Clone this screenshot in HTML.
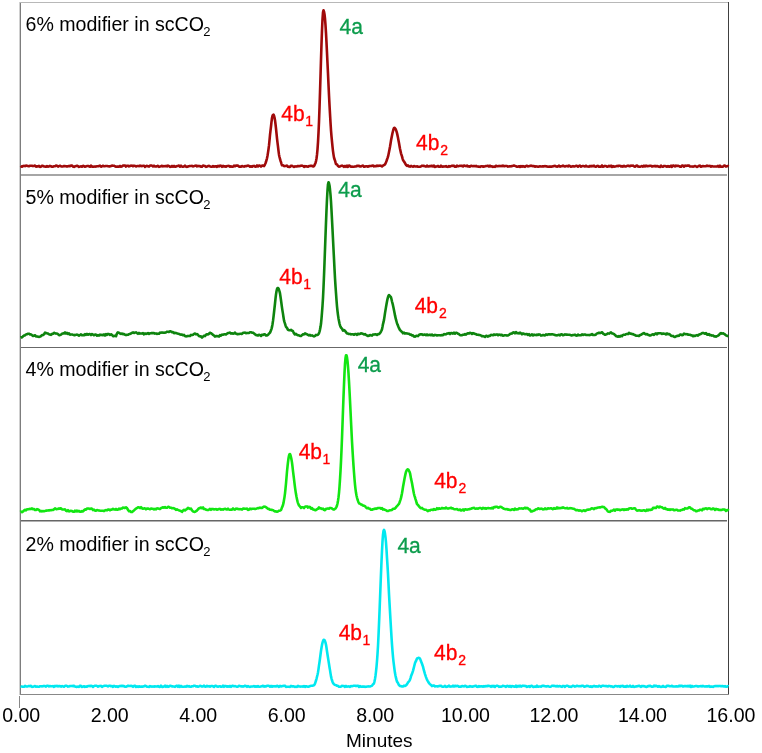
<!DOCTYPE html>
<html><head><meta charset="utf-8"><style>
html,body{margin:0;padding:0;background:#fff;width:762px;height:753px;overflow:hidden}
svg{display:block;font-family:"Liberation Sans",sans-serif;will-change:transform}
</style></head><body>
<svg width="762" height="753" viewBox="0 0 762 753">
<rect width="762" height="753" fill="#fff"/>
<rect x="20" y="2" width="1" height="693" fill="#7d7d7d"/>
<rect x="19" y="2" width="1" height="693" fill="#d0d0d0"/>
<rect x="20" y="2" width="708" height="1" fill="#b8b8b8"/>
<rect x="728" y="2" width="1" height="693" fill="#404040"/>
<rect x="21" y="174" width="706" height="2" fill="#a6a6a6"/>
<rect x="21" y="347" width="706" height="1" fill="#686868"/>
<rect x="21" y="520" width="706" height="1" fill="#666"/>
<rect x="21" y="521" width="706" height="1" fill="#b0b0b0"/>
<rect x="20" y="694" width="709" height="1" fill="#888"/>
<rect x="19" y="696" width="1" height="12" fill="#888"/>
<path d="M20.5,165.9 21.0,166.3 21.5,166.5 22.0,166.8 22.5,166.4 23.0,166.0 23.5,165.9 24.0,165.8 24.5,165.9 25.0,166.1 25.5,165.8 26.0,165.5 26.5,165.7 27.0,165.8 27.5,166.0 28.0,166.1 28.5,166.2 29.0,166.2 29.5,166.0 30.0,165.8 30.5,165.8 31.0,165.8 31.5,165.8 32.0,165.8 32.5,166.0 33.0,166.1 33.5,166.0 34.0,165.9 34.5,165.7 35.0,165.5 35.5,166.1 36.0,166.7 36.5,166.5 37.0,166.3 37.5,166.3 38.0,166.4 38.5,166.1 39.0,165.8 39.5,166.3 40.0,166.9 40.5,166.8 41.0,166.7 41.5,166.2 42.0,165.7 42.5,165.8 43.0,166.0 43.5,166.2 44.0,166.5 44.5,166.5 45.0,166.5 45.5,166.7 46.0,166.8 46.5,166.5 47.0,166.1 47.5,166.4 48.0,166.7 48.5,166.6 49.0,166.4 49.5,166.2 50.0,165.9 50.5,166.1 51.0,166.3 51.5,166.5 52.0,166.7 52.5,166.7 53.0,166.7 53.5,166.4 54.0,166.2 54.5,166.3 55.0,166.3 55.5,165.9 56.0,165.5 56.5,165.7 57.0,165.8 57.5,166.2 58.0,166.6 58.5,166.3 59.0,166.1 59.5,165.9 60.0,165.7 60.5,166.0 61.0,166.3 61.5,166.4 62.0,166.5 62.5,166.5 63.0,166.4 63.5,166.2 64.0,166.0 64.5,166.1 65.0,166.1 65.5,166.2 66.0,166.2 66.5,166.4 67.0,166.6 67.5,166.4 68.0,166.2 68.5,166.1 69.0,166.1 69.5,166.1 70.0,166.2 70.5,165.9 71.0,165.5 71.5,165.6 72.0,165.6 72.5,166.0 73.0,166.5 73.5,166.7 74.0,166.9 74.5,166.6 75.0,166.3 75.5,166.2 76.0,166.1 76.5,165.9 77.0,165.7 77.5,166.0 78.0,166.2 78.5,166.5 79.0,166.9 79.5,166.7 80.0,166.6 80.5,166.4 81.0,166.3 81.5,166.5 82.0,166.7 82.5,166.3 83.0,165.8 83.5,166.0 84.0,166.2 84.5,166.5 85.0,166.8 85.5,166.6 86.0,166.3 86.5,166.2 87.0,166.1 87.5,166.0 88.0,165.9 88.5,166.1 89.0,166.3 89.5,166.6 90.0,166.8 90.5,166.2 91.0,165.5 91.5,166.1 92.0,166.6 92.5,166.6 93.0,166.6 93.5,166.7 94.0,166.7 94.5,166.6 95.0,166.5 95.5,166.6 96.0,166.6 96.5,166.4 97.0,166.2 97.5,166.3 98.0,166.3 98.5,166.2 99.0,166.1 99.5,165.8 100.0,165.6 100.5,166.1 101.0,166.7 101.5,166.5 102.0,166.3 102.5,166.0 103.0,165.8 103.5,166.0 104.0,166.2 104.5,166.2 105.0,166.2 105.5,166.1 106.0,166.0 106.5,166.0 107.0,166.0 107.5,166.1 108.0,166.3 108.5,166.3 109.0,166.4 109.5,166.4 110.0,166.4 110.5,166.2 111.0,166.1 111.5,165.8 112.0,165.5 112.5,165.7 113.0,165.8 113.5,165.8 114.0,165.7 114.5,166.0 115.0,166.3 115.5,166.5 116.0,166.7 116.5,166.7 117.0,166.6 117.5,166.6 118.0,166.6 118.5,166.6 119.0,166.6 119.5,166.3 120.0,165.9 120.5,166.3 121.0,166.7 121.5,166.6 122.0,166.4 122.5,166.0 123.0,165.6 123.5,165.6 124.0,165.5 124.5,165.5 125.0,165.5 125.5,166.0 126.0,166.6 126.5,166.2 127.0,165.8 127.5,165.8 128.0,165.7 128.5,166.0 129.0,166.4 129.5,166.2 130.0,166.0 130.5,165.8 131.0,165.6 131.5,165.7 132.0,165.7 132.5,166.0 133.0,166.2 133.5,166.0 134.0,165.7 134.5,165.8 135.0,165.9 135.5,166.2 136.0,166.5 136.5,166.3 137.0,166.1 137.5,166.0 138.0,166.0 138.5,166.1 139.0,166.2 139.5,165.8 140.0,165.5 140.5,165.8 141.0,166.0 141.5,166.1 142.0,166.1 142.5,165.9 143.0,165.8 143.5,165.7 144.0,165.7 144.5,166.2 145.0,166.8 145.5,166.5 146.0,166.2 146.5,166.0 147.0,165.8 147.5,166.1 148.0,166.3 148.5,166.5 149.0,166.6 149.5,166.1 150.0,165.5 150.5,165.5 151.0,165.5 151.5,165.6 152.0,165.7 152.5,166.1 153.0,166.5 153.5,166.1 154.0,165.7 154.5,166.1 155.0,166.5 155.5,166.5 156.0,166.4 156.5,166.4 157.0,166.3 157.5,166.0 158.0,165.8 158.5,166.3 159.0,166.9 159.5,166.7 160.0,166.6 160.5,166.4 161.0,166.2 161.5,166.0 162.0,165.8 162.5,166.1 163.0,166.4 163.5,166.2 164.0,166.1 164.5,166.2 165.0,166.3 165.5,166.1 166.0,165.9 166.5,166.2 167.0,166.4 167.5,166.0 168.0,165.6 168.5,165.8 169.0,165.9 169.5,166.4 170.0,166.9 170.5,166.8 171.0,166.7 171.5,166.3 172.0,165.9 172.5,166.3 173.0,166.7 173.5,166.3 174.0,165.9 174.5,166.4 175.0,166.8 175.5,166.7 176.0,166.5 176.5,166.3 177.0,166.1 177.5,166.0 178.0,165.9 178.5,165.7 179.0,165.5 179.5,166.1 180.0,166.7 180.5,166.1 181.0,165.6 181.5,166.1 182.0,166.6 182.5,166.7 183.0,166.8 183.5,166.6 184.0,166.3 184.5,166.0 185.0,165.7 185.5,166.2 186.0,166.7 186.5,166.8 187.0,166.9 187.5,166.7 188.0,166.5 188.5,166.3 189.0,166.2 189.5,166.1 190.0,166.0 190.5,166.0 191.0,166.0 191.5,165.9 192.0,165.8 192.5,166.1 193.0,166.4 193.5,166.3 194.0,166.1 194.5,165.9 195.0,165.8 195.5,165.7 196.0,165.6 196.5,166.0 197.0,166.4 197.5,166.2 198.0,165.9 198.5,166.1 199.0,166.2 199.5,166.1 200.0,166.0 200.5,166.3 201.0,166.7 201.5,166.7 202.0,166.8 202.5,166.1 203.0,165.5 203.5,165.7 204.0,165.8 204.5,165.9 205.0,166.0 205.5,166.4 206.0,166.9 206.5,166.7 207.0,166.6 207.5,166.3 208.0,166.0 208.5,165.9 209.0,165.8 209.5,166.1 210.0,166.4 210.5,166.6 211.0,166.7 211.5,166.7 212.0,166.8 212.5,166.4 213.0,166.0 213.5,166.4 214.0,166.7 214.5,166.6 215.0,166.5 215.5,166.3 216.0,166.2 216.5,166.5 217.0,166.9 217.5,166.4 218.0,165.8 218.5,166.2 219.0,166.5 219.5,166.1 220.0,165.6 220.5,165.7 221.0,165.7 221.5,166.3 222.0,166.8 222.5,166.3 223.0,165.8 223.5,166.2 224.0,166.6 224.5,166.5 225.0,166.3 225.5,166.5 226.0,166.7 226.5,166.3 227.0,166.0 227.5,166.0 228.0,166.0 228.5,165.9 229.0,165.9 229.5,166.3 230.0,166.7 230.5,166.5 231.0,166.3 231.5,166.6 232.0,166.8 232.5,166.8 233.0,166.7 233.5,166.2 234.0,165.7 234.5,166.0 235.0,166.3 235.5,166.0 236.0,165.6 236.5,165.6 237.0,165.6 237.5,165.6 238.0,165.6 238.5,166.2 239.0,166.7 239.5,166.7 240.0,166.6 240.5,166.6 241.0,166.7 241.5,166.3 242.0,166.0 242.5,166.2 243.0,166.4 243.5,166.5 244.0,166.6 244.5,166.3 245.0,166.0 245.5,166.2 246.0,166.3 246.5,166.1 247.0,165.8 247.5,165.7 248.0,165.6 248.5,165.7 249.0,165.9 249.5,166.3 250.0,166.7 250.5,166.5 251.0,166.3 251.5,166.5 252.0,166.8 252.5,166.5 253.0,166.1 253.5,166.0 254.0,165.9 254.5,166.2 255.0,166.6 255.5,166.6 256.0,166.7 256.5,166.1 257.0,165.5 257.5,166.0 258.0,166.4 258.5,166.0 259.0,165.6 259.5,165.6 260.0,165.7 260.5,166.2 261.0,166.7 261.5,166.1 262.0,165.5 262.5,165.5 263.0,165.5 263.5,165.9 264.0,166.1 264.5,165.3 265.0,164.3 265.5,163.2 266.0,161.8 266.5,160.2 267.0,158.2 267.5,155.7 268.0,152.6 268.5,149.2 269.0,145.4 269.5,140.3 270.0,135.0 270.5,130.6 271.0,126.5 271.5,121.8 272.0,118.0 272.5,115.9 273.0,114.9 273.5,114.7 274.0,115.7 274.5,117.5 275.0,120.2 275.5,124.1 276.0,128.5 276.5,133.4 277.0,138.3 277.5,142.7 278.0,146.7 278.5,150.9 279.0,154.7 279.5,157.0 280.0,158.9 280.5,160.7 281.0,162.1 281.5,163.8 282.0,165.3 282.5,165.3 283.0,165.2 283.5,165.7 284.0,166.1 284.5,166.1 285.0,166.0 285.5,166.0 286.0,165.9 286.5,165.7 287.0,165.6 287.5,166.2 288.0,166.8 288.5,166.8 289.0,166.9 289.5,166.9 290.0,166.9 290.5,166.3 291.0,165.7 291.5,165.7 292.0,165.8 292.5,166.1 293.0,166.4 293.5,166.6 294.0,166.9 294.5,166.6 295.0,166.3 295.5,166.4 296.0,166.5 296.5,166.4 297.0,166.4 297.5,166.1 298.0,165.9 298.5,166.1 299.0,166.3 299.5,166.1 300.0,165.9 300.5,165.9 301.0,165.8 301.5,165.7 302.0,165.6 302.5,165.8 303.0,165.9 303.5,166.4 304.0,166.9 304.5,166.5 305.0,166.1 305.5,166.3 306.0,166.4 306.5,166.4 307.0,166.4 307.5,166.6 308.0,166.8 308.5,166.4 309.0,166.0 309.5,166.0 310.0,165.9 310.5,165.9 311.0,165.9 311.5,165.9 312.0,165.9 312.5,166.2 313.0,166.5 313.5,166.4 314.0,166.1 314.5,165.3 315.0,164.1 315.5,162.9 316.0,161.1 316.5,158.5 317.0,154.7 317.5,149.3 318.0,142.1 318.5,132.9 319.0,121.6 319.5,107.9 320.0,92.6 320.5,76.2 321.0,59.6 321.5,44.0 322.0,30.3 322.5,19.3 323.0,12.3 323.5,10.2 324.0,11.6 324.5,14.2 325.0,18.7 325.5,25.2 326.0,33.1 326.5,42.6 327.0,52.9 327.5,63.2 328.0,73.6 328.5,84.6 329.0,95.3 329.5,105.0 330.0,113.9 330.5,122.5 331.0,130.3 331.5,136.4 332.0,141.6 332.5,146.7 333.0,151.1 333.5,154.6 334.0,157.6 334.5,159.3 335.0,160.5 335.5,162.4 336.0,164.1 336.5,164.3 337.0,164.3 337.5,165.2 338.0,165.9 338.5,166.3 339.0,166.6 339.5,166.6 340.0,166.5 340.5,166.2 341.0,165.9 341.5,165.8 342.0,165.6 342.5,165.9 343.0,166.2 343.5,166.5 344.0,166.8 344.5,166.3 345.0,165.9 345.5,166.3 346.0,166.8 346.5,166.2 347.0,165.7 347.5,166.2 348.0,166.8 348.5,166.2 349.0,165.5 349.5,165.7 350.0,165.9 350.5,166.4 351.0,166.8 351.5,166.7 352.0,166.6 352.5,166.7 353.0,166.8 353.5,166.7 354.0,166.7 354.5,166.6 355.0,166.5 355.5,166.5 356.0,166.5 356.5,166.1 357.0,165.7 357.5,165.9 358.0,166.1 358.5,165.9 359.0,165.7 359.5,166.1 360.0,166.5 360.5,166.5 361.0,166.4 361.5,166.1 362.0,165.9 362.5,165.7 363.0,165.6 363.5,166.2 364.0,166.8 364.5,166.7 365.0,166.6 365.5,166.5 366.0,166.3 366.5,166.3 367.0,166.3 367.5,166.5 368.0,166.7 368.5,166.4 369.0,166.1 369.5,166.1 370.0,166.1 370.5,166.0 371.0,166.0 371.5,165.9 372.0,165.9 372.5,165.7 373.0,165.5 373.5,166.0 374.0,166.4 374.5,166.2 375.0,166.1 375.5,166.2 376.0,166.3 376.5,165.9 377.0,165.6 377.5,165.8 378.0,166.0 378.5,165.8 379.0,165.7 379.5,165.7 380.0,165.6 380.5,165.7 381.0,165.8 381.5,166.1 382.0,166.4 382.5,166.0 383.0,165.6 383.5,165.3 384.0,165.0 384.5,164.8 385.0,164.4 385.5,163.4 386.0,162.3 386.5,161.0 387.0,159.5 387.5,158.2 388.0,156.7 388.5,154.5 389.0,152.1 389.5,149.5 390.0,146.8 390.5,143.7 391.0,140.6 391.5,137.9 392.0,135.4 392.5,133.0 393.0,131.0 393.5,129.2 394.0,127.9 394.5,127.8 395.0,128.2 395.5,128.9 396.0,130.0 396.5,131.4 397.0,133.1 397.5,135.4 398.0,137.8 398.5,140.4 399.0,143.1 399.5,145.9 400.0,148.7 400.5,151.1 401.0,153.3 401.5,154.9 402.0,156.4 402.5,158.3 403.0,160.0 403.5,160.8 404.0,161.5 404.5,162.3 405.0,163.1 405.5,164.0 406.0,164.8 406.5,165.4 407.0,165.9 407.5,165.6 408.0,165.3 408.5,165.8 409.0,166.4 409.5,166.5 410.0,166.6 410.5,166.3 411.0,165.9 411.5,166.2 412.0,166.4 412.5,166.6 413.0,166.7 413.5,166.3 414.0,166.0 414.5,166.2 415.0,166.5 415.5,166.5 416.0,166.5 416.5,166.4 417.0,166.3 417.5,166.5 418.0,166.7 418.5,166.7 419.0,166.8 419.5,166.8 420.0,166.8 420.5,166.6 421.0,166.3 421.5,166.0 422.0,165.7 422.5,165.8 423.0,165.9 423.5,165.8 424.0,165.8 424.5,166.1 425.0,166.3 425.5,166.4 426.0,166.6 426.5,166.1 427.0,165.6 427.5,166.0 428.0,166.5 428.5,166.5 429.0,166.5 429.5,166.2 430.0,166.0 430.5,166.1 431.0,166.2 431.5,166.0 432.0,165.7 432.5,166.1 433.0,166.5 433.5,166.0 434.0,165.6 434.5,166.2 435.0,166.9 435.5,166.8 436.0,166.6 436.5,166.5 437.0,166.4 437.5,166.1 438.0,165.9 438.5,166.3 439.0,166.8 439.5,166.8 440.0,166.8 440.5,166.3 441.0,165.7 441.5,166.1 442.0,166.6 442.5,166.6 443.0,166.7 443.5,166.6 444.0,166.4 444.5,166.5 445.0,166.5 445.5,166.3 446.0,166.1 446.5,166.5 447.0,166.8 447.5,166.8 448.0,166.9 448.5,166.4 449.0,166.0 449.5,166.3 450.0,166.6 450.5,166.4 451.0,166.1 451.5,165.9 452.0,165.7 452.5,165.8 453.0,166.0 453.5,165.8 454.0,165.7 454.5,166.2 455.0,166.8 455.5,166.8 456.0,166.8 456.5,166.3 457.0,165.7 457.5,166.0 458.0,166.3 458.5,166.2 459.0,166.1 459.5,165.9 460.0,165.7 460.5,165.8 461.0,165.9 461.5,165.9 462.0,165.8 462.5,166.2 463.0,166.5 463.5,166.0 464.0,165.5 464.5,165.6 465.0,165.8 465.5,165.9 466.0,166.1 466.5,165.8 467.0,165.5 467.5,166.0 468.0,166.4 468.5,166.4 469.0,166.3 469.5,166.5 470.0,166.7 470.5,166.2 471.0,165.8 471.5,165.8 472.0,165.9 472.5,166.1 473.0,166.3 473.5,166.1 474.0,165.9 474.5,166.1 475.0,166.3 475.5,166.1 476.0,165.9 476.5,166.2 477.0,166.5 477.5,166.5 478.0,166.6 478.5,166.6 479.0,166.6 479.5,166.7 480.0,166.9 480.5,166.6 481.0,166.3 481.5,166.2 482.0,166.2 482.5,166.4 483.0,166.7 483.5,166.6 484.0,166.6 484.5,166.4 485.0,166.3 485.5,166.2 486.0,166.0 486.5,166.0 487.0,165.9 487.5,165.8 488.0,165.7 488.5,166.1 489.0,166.6 489.5,166.1 490.0,165.7 490.5,166.1 491.0,166.5 491.5,166.4 492.0,166.3 492.5,166.6 493.0,166.9 493.5,166.7 494.0,166.6 494.5,166.7 495.0,166.9 495.5,166.3 496.0,165.7 496.5,165.9 497.0,166.2 497.5,166.3 498.0,166.3 498.5,166.1 499.0,165.9 499.5,166.1 500.0,166.2 500.5,166.1 501.0,166.0 501.5,166.1 502.0,166.2 502.5,165.9 503.0,165.5 503.5,165.8 504.0,166.1 504.5,166.1 505.0,166.1 505.5,166.0 506.0,165.9 506.5,166.0 507.0,166.1 507.5,166.3 508.0,166.6 508.5,166.5 509.0,166.5 509.5,166.3 510.0,166.2 510.5,166.3 511.0,166.4 511.5,166.2 512.0,166.0 512.5,165.9 513.0,165.8 513.5,165.6 514.0,165.5 514.5,165.7 515.0,165.9 515.5,166.1 516.0,166.3 516.5,166.5 517.0,166.7 517.5,166.7 518.0,166.7 518.5,166.4 519.0,166.2 519.5,166.5 520.0,166.9 520.5,166.5 521.0,166.1 521.5,166.4 522.0,166.7 522.5,166.4 523.0,166.1 523.5,166.3 524.0,166.5 524.5,166.7 525.0,166.9 525.5,166.4 526.0,165.9 526.5,165.8 527.0,165.7 527.5,166.1 528.0,166.4 528.5,166.3 529.0,166.2 529.5,166.1 530.0,166.0 530.5,165.8 531.0,165.5 531.5,165.8 532.0,166.0 532.5,166.1 533.0,166.1 533.5,166.1 534.0,166.1 534.5,166.4 535.0,166.7 535.5,166.5 536.0,166.3 536.5,166.4 537.0,166.5 537.5,166.6 538.0,166.8 538.5,166.7 539.0,166.5 539.5,166.4 540.0,166.2 540.5,166.4 541.0,166.5 541.5,166.5 542.0,166.4 542.5,166.4 543.0,166.4 543.5,166.4 544.0,166.4 544.5,166.2 545.0,166.1 545.5,166.2 546.0,166.4 546.5,166.4 547.0,166.4 547.5,166.6 548.0,166.8 548.5,166.7 549.0,166.6 549.5,166.6 550.0,166.7 550.5,166.6 551.0,166.6 551.5,166.6 552.0,166.6 552.5,166.5 553.0,166.3 553.5,166.2 554.0,166.0 554.5,165.9 555.0,165.9 555.5,166.2 556.0,166.5 556.5,166.6 557.0,166.7 557.5,166.5 558.0,166.3 558.5,166.0 559.0,165.7 559.5,166.2 560.0,166.7 560.5,166.4 561.0,166.2 561.5,166.2 562.0,166.2 562.5,165.9 563.0,165.6 563.5,165.9 564.0,166.2 564.5,166.4 565.0,166.5 565.5,166.3 566.0,166.1 566.5,166.0 567.0,166.0 567.5,166.2 568.0,166.4 568.5,166.0 569.0,165.5 569.5,165.9 570.0,166.2 570.5,166.5 571.0,166.8 571.5,166.6 572.0,166.5 572.5,166.3 573.0,166.1 573.5,166.3 574.0,166.5 574.5,166.4 575.0,166.3 575.5,166.1 576.0,165.8 576.5,165.8 577.0,165.8 577.5,166.3 578.0,166.7 578.5,166.3 579.0,165.9 579.5,165.7 580.0,165.6 580.5,166.1 581.0,166.7 581.5,166.4 582.0,166.2 582.5,166.1 583.0,166.0 583.5,166.1 584.0,166.2 584.5,166.4 585.0,166.5 585.5,166.1 586.0,165.7 586.5,166.1 587.0,166.4 587.5,166.5 588.0,166.5 588.5,166.6 589.0,166.6 589.5,166.3 590.0,165.9 590.5,166.1 591.0,166.4 591.5,166.1 592.0,165.8 592.5,166.1 593.0,166.3 593.5,166.0 594.0,165.7 594.5,166.2 595.0,166.6 595.5,166.7 596.0,166.7 596.5,166.3 597.0,166.0 597.5,165.9 598.0,165.8 598.5,166.3 599.0,166.8 599.5,166.7 600.0,166.5 600.5,166.6 601.0,166.7 601.5,166.1 602.0,165.5 602.5,166.2 603.0,166.8 603.5,166.6 604.0,166.4 604.5,166.2 605.0,165.9 605.5,166.0 606.0,166.1 606.5,166.3 607.0,166.6 607.5,166.6 608.0,166.6 608.5,166.2 609.0,165.8 609.5,166.1 610.0,166.4 610.5,166.1 611.0,165.7 611.5,166.3 612.0,166.9 612.5,166.5 613.0,166.1 613.5,166.4 614.0,166.8 614.5,166.6 615.0,166.5 615.5,166.4 616.0,166.3 616.5,166.1 617.0,165.9 617.5,166.1 618.0,166.2 618.5,166.0 619.0,165.7 619.5,165.7 620.0,165.7 620.5,166.1 621.0,166.5 621.5,166.3 622.0,166.0 622.5,166.3 623.0,166.6 623.5,166.2 624.0,165.8 624.5,166.2 625.0,166.5 625.5,166.5 626.0,166.5 626.5,166.2 627.0,165.9 627.5,165.8 628.0,165.6 628.5,165.9 629.0,166.1 629.5,166.1 630.0,166.2 630.5,165.9 631.0,165.6 631.5,165.7 632.0,165.8 632.5,165.7 633.0,165.6 633.5,166.0 634.0,166.3 634.5,166.5 635.0,166.7 635.5,166.3 636.0,165.8 636.5,165.7 637.0,165.5 637.5,166.0 638.0,166.5 638.5,166.6 639.0,166.6 639.5,166.7 640.0,166.8 640.5,166.6 641.0,166.4 641.5,166.2 642.0,166.0 642.5,166.3 643.0,166.7 643.5,166.2 644.0,165.7 644.5,166.1 645.0,166.5 645.5,166.1 646.0,165.6 646.5,165.8 647.0,166.1 647.5,166.1 648.0,166.2 648.5,166.1 649.0,166.0 649.5,165.9 650.0,165.7 650.5,165.8 651.0,165.8 651.5,166.2 652.0,166.6 652.5,166.4 653.0,166.1 653.5,166.2 654.0,166.3 654.5,166.1 655.0,165.8 655.5,166.1 656.0,166.5 656.5,166.2 657.0,166.0 657.5,166.1 658.0,166.3 658.5,166.6 659.0,166.8 659.5,166.8 660.0,166.9 660.5,166.2 661.0,165.6 661.5,166.1 662.0,166.6 662.5,166.7 663.0,166.7 663.5,166.3 664.0,165.9 664.5,166.0 665.0,166.0 665.5,166.2 666.0,166.3 666.5,166.5 667.0,166.8 667.5,166.4 668.0,166.1 668.5,166.4 669.0,166.7 669.5,166.6 670.0,166.6 670.5,166.1 671.0,165.7 671.5,166.2 672.0,166.8 672.5,166.2 673.0,165.5 673.5,165.6 674.0,165.7 674.5,166.1 675.0,166.4 675.5,166.0 676.0,165.6 676.5,165.8 677.0,166.0 677.5,165.9 678.0,165.7 678.5,165.9 679.0,166.1 679.5,166.4 680.0,166.7 680.5,166.7 681.0,166.8 681.5,166.2 682.0,165.5 682.5,165.6 683.0,165.6 683.5,166.1 684.0,166.7 684.5,166.1 685.0,165.6 685.5,165.7 686.0,165.9 686.5,165.8 687.0,165.7 687.5,165.6 688.0,165.6 688.5,165.6 689.0,165.5 689.5,166.0 690.0,166.4 690.5,166.5 691.0,166.5 691.5,166.5 692.0,166.5 692.5,166.6 693.0,166.7 693.5,166.6 694.0,166.4 694.5,166.2 695.0,166.0 695.5,166.2 696.0,166.4 696.5,166.6 697.0,166.9 697.5,166.6 698.0,166.4 698.5,166.1 699.0,165.8 699.5,165.7 700.0,165.6 700.5,166.2 701.0,166.8 701.5,166.6 702.0,166.3 702.5,166.2 703.0,166.0 703.5,166.2 704.0,166.3 704.5,166.3 705.0,166.3 705.5,166.3 706.0,166.2 706.5,165.9 707.0,165.6 707.5,165.8 708.0,166.0 708.5,166.0 709.0,166.1 709.5,165.9 710.0,165.8 710.5,166.3 711.0,166.7 711.5,166.4 712.0,166.1 712.5,166.3 713.0,166.4 713.5,166.5 714.0,166.5 714.5,166.5 715.0,166.5 715.5,166.5 716.0,166.5 716.5,166.5 717.0,166.6 717.5,166.2 718.0,165.9 718.5,166.4 719.0,166.9 719.5,166.3 720.0,165.7 720.5,166.2 721.0,166.8 721.5,166.7 722.0,166.7 722.5,166.7 723.0,166.7 723.5,166.1 724.0,165.6 724.5,165.6 725.0,165.6 725.5,166.1 726.0,166.6 726.5,166.4 727.0,166.2 727.5,166.1 728.0,166.0 728.5,166.4" fill="none" stroke="#a00a0a" stroke-width="2.6" stroke-linejoin="round" stroke-linecap="butt"/>
<path d="M20.5,337.7 21.0,337.4 21.5,337.4 22.0,337.4 22.5,336.8 23.0,336.3 23.5,335.9 24.0,335.5 24.5,335.4 25.0,335.4 25.5,334.8 26.0,334.4 26.5,334.3 27.0,334.2 27.5,334.0 28.0,333.8 28.5,333.7 29.0,333.7 29.5,334.0 30.0,334.4 30.5,334.4 31.0,334.4 31.5,334.8 32.0,335.2 32.5,335.6 33.0,336.0 33.5,335.8 34.0,335.7 34.5,335.4 35.0,335.2 35.5,335.8 36.0,336.4 36.5,336.5 37.0,336.5 37.5,336.6 38.0,336.6 38.5,336.8 39.0,336.9 39.5,336.8 40.0,336.6 40.5,336.5 41.0,336.2 41.5,335.6 42.0,335.0 42.5,335.0 43.0,335.1 43.5,334.7 44.0,334.3 44.5,333.4 45.0,332.6 45.5,332.8 46.0,333.2 46.5,333.1 47.0,333.3 47.5,333.4 48.0,333.5 48.5,333.9 49.0,334.3 49.5,334.4 50.0,334.5 50.5,334.7 51.0,334.9 51.5,334.4 52.0,333.9 52.5,333.9 53.0,333.8 53.5,333.3 54.0,332.8 54.5,333.0 55.0,333.3 55.5,333.4 56.0,333.6 56.5,333.5 57.0,333.5 57.5,333.8 58.0,334.2 58.5,334.7 59.0,335.2 59.5,335.2 60.0,335.1 60.5,334.9 61.0,334.6 61.5,334.2 62.0,333.8 62.5,333.6 63.0,333.4 63.5,333.4 64.0,333.5 64.5,333.0 65.0,332.5 65.5,333.1 66.0,333.6 66.5,333.2 67.0,332.9 67.5,333.4 68.0,334.0 68.5,333.7 69.0,333.4 69.5,334.0 70.0,334.6 70.5,334.6 71.0,334.5 71.5,334.5 72.0,334.5 72.5,334.6 73.0,334.8 73.5,334.9 74.0,335.1 74.5,335.1 75.0,335.1 75.5,334.9 76.0,334.8 76.5,334.7 77.0,334.6 77.5,334.8 78.0,335.0 78.5,335.3 79.0,335.6 79.5,335.3 80.0,335.1 80.5,334.7 81.0,334.3 81.5,334.8 82.0,335.3 82.5,335.2 83.0,335.1 83.5,335.2 84.0,335.3 84.5,334.7 85.0,334.2 85.5,334.6 86.0,334.9 86.5,334.4 87.0,333.9 87.5,334.3 88.0,334.7 88.5,334.5 89.0,334.2 89.5,334.1 90.0,334.1 90.5,334.6 91.0,335.1 91.5,334.5 92.0,334.0 92.5,334.4 93.0,334.7 93.5,335.0 94.0,335.3 94.5,334.9 95.0,334.6 95.5,334.6 96.0,334.6 96.5,335.1 97.0,335.7 97.5,335.4 98.0,335.1 98.5,335.4 99.0,335.6 99.5,335.1 100.0,334.6 100.5,334.9 101.0,335.1 101.5,334.9 102.0,334.7 102.5,335.1 103.0,335.3 103.5,334.9 104.0,334.4 104.5,334.9 105.0,335.5 105.5,334.8 106.0,334.1 106.5,334.5 107.0,334.9 107.5,334.4 108.0,333.9 108.5,334.0 109.0,334.2 109.5,334.5 110.0,334.9 110.5,334.6 111.0,334.3 111.5,334.5 112.0,334.8 112.5,335.5 113.0,336.1 113.5,336.1 114.0,336.1 114.5,336.0 115.0,335.8 115.5,336.1 116.0,336.2 116.5,334.8 117.0,333.4 117.5,332.7 118.0,332.4 118.5,332.6 119.0,332.8 119.5,333.1 120.0,333.5 120.5,333.7 121.0,334.0 121.5,333.7 122.0,333.5 122.5,333.9 123.0,334.2 123.5,334.1 124.0,334.0 124.5,334.4 125.0,334.7 125.5,334.9 126.0,335.1 126.5,335.0 127.0,334.8 127.5,334.8 128.0,334.8 128.5,334.5 129.0,334.2 129.5,334.1 130.0,334.0 130.5,333.7 131.0,333.5 131.5,333.2 132.0,332.9 132.5,332.6 133.0,332.4 133.5,332.7 134.0,333.0 134.5,332.8 135.0,332.6 135.5,332.5 136.0,332.4 136.5,332.7 137.0,333.1 137.5,333.4 138.0,333.8 138.5,333.4 139.0,332.9 139.5,333.3 140.0,333.6 140.5,333.5 141.0,333.4 141.5,333.5 142.0,333.6 142.5,333.4 143.0,333.1 143.5,333.7 144.0,334.3 144.5,333.8 145.0,333.4 145.5,333.6 146.0,333.9 146.5,333.8 147.0,333.7 147.5,333.4 148.0,333.1 148.5,333.5 149.0,333.9 149.5,333.6 150.0,333.3 150.5,333.2 151.0,333.2 151.5,333.1 152.0,333.1 152.5,333.1 153.0,333.2 153.5,333.1 154.0,333.0 154.5,333.3 155.0,333.6 155.5,333.5 156.0,333.4 156.5,333.6 157.0,333.9 157.5,333.8 158.0,333.8 158.5,333.8 159.0,333.8 159.5,333.2 160.0,332.6 160.5,332.7 161.0,332.8 161.5,332.6 162.0,332.4 162.5,332.6 163.0,332.8 163.5,332.7 164.0,332.6 164.5,332.7 165.0,332.7 165.5,332.6 166.0,332.4 166.5,332.0 167.0,331.7 167.5,331.7 168.0,331.8 168.5,331.9 169.0,331.9 169.5,331.6 170.0,331.2 170.5,331.3 171.0,331.4 171.5,331.8 172.0,332.2 172.5,332.1 173.0,332.0 173.5,332.6 174.0,333.2 174.5,333.0 175.0,332.8 175.5,332.9 176.0,333.0 176.5,333.2 177.0,333.4 177.5,333.6 178.0,333.7 178.5,333.8 179.0,333.9 179.5,334.2 180.0,334.5 180.5,334.6 181.0,334.6 181.5,334.6 182.0,334.6 182.5,334.9 183.0,335.3 183.5,335.1 184.0,334.9 184.5,335.5 185.0,336.1 185.5,336.2 186.0,336.4 186.5,336.3 187.0,336.2 187.5,336.0 188.0,335.9 188.5,336.0 189.0,336.0 189.5,336.0 190.0,336.0 190.5,335.5 191.0,334.9 191.5,335.0 192.0,335.0 192.5,334.9 193.0,334.8 193.5,334.3 194.0,333.9 194.5,333.7 195.0,333.5 195.5,333.9 196.0,334.4 196.5,334.2 197.0,334.1 197.5,334.4 198.0,334.8 198.5,335.5 199.0,336.1 199.5,336.2 200.0,336.4 200.5,336.4 201.0,336.4 201.5,337.1 202.0,337.6 202.5,337.1 203.0,336.6 203.5,336.2 204.0,335.7 204.5,335.9 205.0,336.1 205.5,335.4 206.0,334.7 206.5,334.5 207.0,334.3 207.5,334.4 208.0,334.5 208.5,334.2 209.0,333.8 209.5,333.2 210.0,332.7 210.5,332.9 211.0,333.3 211.5,333.5 212.0,333.9 212.5,334.3 213.0,334.9 213.5,335.2 214.0,335.4 214.5,336.1 215.0,336.6 215.5,336.4 216.0,336.0 216.5,336.1 217.0,336.2 217.5,336.2 218.0,336.1 218.5,336.4 219.0,336.6 219.5,335.9 220.0,335.1 220.5,335.4 221.0,335.7 221.5,335.2 222.0,334.6 222.5,334.7 223.0,334.8 223.5,334.6 224.0,334.3 224.5,334.3 225.0,334.2 225.5,334.4 226.0,334.5 226.5,334.1 227.0,333.7 227.5,333.4 228.0,333.1 228.5,333.0 229.0,332.9 229.5,332.7 230.0,332.6 230.5,333.1 231.0,333.6 231.5,333.4 232.0,333.2 232.5,333.4 233.0,333.7 233.5,333.5 234.0,333.4 234.5,333.0 235.0,332.6 235.5,333.2 236.0,333.7 236.5,333.9 237.0,334.1 237.5,334.1 238.0,334.2 238.5,334.1 239.0,334.0 239.5,333.9 240.0,333.8 240.5,333.8 241.0,333.8 241.5,333.9 242.0,333.9 242.5,333.4 243.0,332.8 243.5,332.8 244.0,332.8 244.5,332.7 245.0,332.6 245.5,332.9 246.0,333.2 246.5,333.0 247.0,332.9 247.5,333.0 248.0,333.1 248.5,333.0 249.0,332.9 249.5,332.6 250.0,332.2 250.5,332.2 251.0,332.2 251.5,332.4 252.0,332.7 252.5,332.7 253.0,332.7 253.5,333.0 254.0,333.4 254.5,333.8 255.0,334.3 255.5,334.7 256.0,335.1 256.5,335.1 257.0,335.1 257.5,335.4 258.0,335.6 258.5,335.2 259.0,334.7 259.5,334.9 260.0,335.1 260.5,335.5 261.0,335.9 261.5,335.3 262.0,334.7 262.5,334.8 263.0,335.0 263.5,334.7 264.0,334.4 264.5,334.4 265.0,334.4 265.5,335.0 266.0,335.5 266.5,335.5 267.0,335.5 267.5,335.2 268.0,334.8 268.5,334.3 269.0,333.6 269.5,333.2 270.0,332.6 270.5,331.6 271.0,330.3 271.5,328.8 272.0,326.9 272.5,324.2 273.0,320.9 273.5,316.9 274.0,312.5 274.5,308.0 275.0,303.5 275.5,298.7 276.0,294.4 276.5,291.3 277.0,289.1 277.5,288.0 278.0,288.1 278.5,288.5 279.0,289.8 279.5,291.3 280.0,293.4 280.5,296.7 281.0,300.3 281.5,304.0 282.0,307.7 282.5,310.9 283.0,313.9 283.5,317.3 284.0,320.4 284.5,322.2 285.0,323.7 285.5,325.4 286.0,326.7 286.5,327.4 287.0,327.9 287.5,329.0 288.0,329.9 288.5,330.1 289.0,330.2 289.5,330.2 290.0,330.2 290.5,330.0 291.0,329.9 291.5,330.2 292.0,330.7 292.5,330.9 293.0,331.2 293.5,332.3 294.0,333.3 294.5,334.0 295.0,334.5 295.5,334.2 296.0,333.9 296.5,334.4 297.0,334.8 297.5,335.0 298.0,335.2 298.5,335.3 299.0,335.4 299.5,335.7 300.0,335.9 300.5,336.0 301.0,336.0 301.5,335.6 302.0,335.1 302.5,334.7 303.0,334.2 303.5,334.3 304.0,334.4 304.5,333.8 305.0,333.3 305.5,333.6 306.0,334.0 306.5,334.1 307.0,334.3 307.5,334.6 308.0,334.9 308.5,335.2 309.0,335.5 309.5,335.2 310.0,334.9 310.5,335.3 311.0,335.6 311.5,335.5 312.0,335.4 312.5,335.7 313.0,335.9 313.5,336.2 314.0,336.4 314.5,336.2 315.0,335.9 315.5,335.5 316.0,334.9 316.5,335.0 317.0,335.1 317.5,334.9 318.0,334.6 318.5,334.0 319.0,333.2 319.5,331.6 320.0,329.6 320.5,327.1 321.0,323.8 321.5,318.7 322.0,312.3 322.5,305.8 323.0,297.8 323.5,287.5 324.0,275.8 324.5,263.0 325.0,249.4 325.5,235.8 326.0,222.6 326.5,210.1 327.0,199.3 327.5,190.3 328.0,184.2 328.5,182.2 329.0,183.2 329.5,185.5 330.0,189.5 330.5,194.8 331.0,201.5 331.5,210.2 332.0,219.7 332.5,229.4 333.0,239.3 333.5,249.2 334.0,258.9 334.5,268.9 335.0,278.3 335.5,286.1 336.0,293.2 336.5,300.2 337.0,306.3 337.5,311.1 338.0,315.1 338.5,318.4 339.0,321.0 339.5,323.5 340.0,325.4 340.5,326.7 341.0,327.6 341.5,328.2 342.0,328.6 342.5,329.6 343.0,330.6 343.5,330.3 344.0,330.1 344.5,330.4 345.0,330.8 345.5,331.5 346.0,332.2 346.5,332.8 347.0,333.4 347.5,333.5 348.0,333.6 348.5,333.9 349.0,334.0 349.5,334.0 350.0,333.9 350.5,334.1 351.0,334.4 351.5,334.3 352.0,334.2 352.5,334.2 353.0,334.3 353.5,334.5 354.0,334.8 354.5,334.5 355.0,334.1 355.5,334.1 356.0,334.1 356.5,334.5 357.0,334.8 357.5,334.3 358.0,333.7 358.5,333.9 359.0,334.2 359.5,334.1 360.0,333.9 360.5,333.6 361.0,333.2 361.5,333.4 362.0,333.5 362.5,333.7 363.0,333.9 363.5,334.2 364.0,334.5 364.5,334.3 365.0,334.1 365.5,334.5 366.0,334.8 366.5,335.2 367.0,335.6 367.5,335.8 368.0,336.0 368.5,335.8 369.0,335.7 369.5,335.3 370.0,335.0 370.5,335.2 371.0,335.4 371.5,335.5 372.0,335.6 372.5,335.0 373.0,334.5 373.5,334.5 374.0,334.5 374.5,334.4 375.0,334.3 375.5,334.4 376.0,334.4 376.5,334.7 377.0,335.0 377.5,334.6 378.0,334.1 378.5,334.2 379.0,334.2 379.5,333.7 380.0,333.1 380.5,332.4 381.0,331.5 381.5,330.5 382.0,329.2 382.5,326.8 383.0,324.1 383.5,322.2 384.0,319.9 384.5,316.6 385.0,313.1 385.5,310.1 386.0,307.1 386.5,304.2 387.0,301.6 387.5,299.1 388.0,297.2 388.5,295.8 389.0,295.1 389.5,295.5 390.0,296.3 390.5,296.6 391.0,297.3 391.5,299.3 392.0,301.5 392.5,303.3 393.0,305.4 393.5,307.8 394.0,310.2 394.5,312.8 395.0,315.4 395.5,317.6 396.0,319.7 396.5,321.5 397.0,323.2 397.5,324.6 398.0,325.8 398.5,327.0 399.0,328.1 399.5,329.2 400.0,330.1 400.5,330.6 401.0,331.0 401.5,331.5 402.0,331.9 402.5,332.6 403.0,333.3 403.5,332.9 404.0,332.5 404.5,333.1 405.0,333.6 405.5,333.4 406.0,333.2 406.5,333.4 407.0,333.5 407.5,333.6 408.0,333.7 408.5,333.8 409.0,333.8 409.5,334.2 410.0,334.7 410.5,334.7 411.0,334.6 411.5,335.0 412.0,335.4 412.5,335.4 413.0,335.4 413.5,336.0 414.0,336.5 414.5,336.6 415.0,336.6 415.5,336.3 416.0,335.9 416.5,335.9 417.0,335.9 417.5,336.0 418.0,336.1 418.5,335.5 419.0,334.9 419.5,334.6 420.0,334.4 420.5,334.4 421.0,334.4 421.5,334.4 422.0,334.3 422.5,334.7 423.0,335.0 423.5,334.8 424.0,334.6 424.5,334.6 425.0,334.6 425.5,334.9 426.0,335.2 426.5,334.8 427.0,334.4 427.5,334.8 428.0,335.2 428.5,335.1 429.0,335.0 429.5,334.8 430.0,334.7 430.5,335.0 431.0,335.3 431.5,335.0 432.0,334.6 432.5,335.0 433.0,335.4 433.5,335.4 434.0,335.5 434.5,335.2 435.0,334.9 435.5,335.0 436.0,335.1 436.5,335.3 437.0,335.5 437.5,335.3 438.0,335.2 438.5,335.2 439.0,335.2 439.5,335.2 440.0,335.3 440.5,335.3 441.0,335.4 441.5,335.2 442.0,335.0 442.5,335.1 443.0,335.2 443.5,334.6 444.0,334.1 444.5,334.2 445.0,334.4 445.5,334.3 446.0,334.3 446.5,334.0 447.0,333.6 447.5,333.6 448.0,333.5 448.5,333.3 449.0,333.0 449.5,333.5 450.0,334.0 450.5,333.5 451.0,333.0 451.5,333.0 452.0,333.1 452.5,333.3 453.0,333.6 453.5,333.1 454.0,332.6 454.5,333.1 455.0,333.7 455.5,333.2 456.0,332.8 456.5,332.8 457.0,332.9 457.5,333.3 458.0,333.7 458.5,333.9 459.0,334.0 459.5,334.6 460.0,335.1 460.5,335.2 461.0,335.3 461.5,335.2 462.0,335.2 462.5,334.9 463.0,334.7 463.5,334.7 464.0,334.7 464.5,334.3 465.0,334.0 465.5,334.3 466.0,334.6 466.5,334.1 467.0,333.7 467.5,333.5 468.0,333.3 468.5,333.5 469.0,333.6 469.5,333.2 470.0,332.8 470.5,332.9 471.0,333.1 471.5,333.5 472.0,334.0 472.5,333.6 473.0,333.1 473.5,333.3 474.0,333.5 474.5,333.7 475.0,333.9 475.5,334.0 476.0,334.2 476.5,334.5 477.0,334.7 477.5,334.7 478.0,334.7 478.5,334.8 479.0,335.0 479.5,335.0 480.0,335.1 480.5,335.3 481.0,335.4 481.5,335.8 482.0,336.3 482.5,336.2 483.0,336.1 483.5,336.3 484.0,336.4 484.5,336.7 485.0,337.0 485.5,336.5 486.0,335.9 486.5,335.9 487.0,335.9 487.5,336.3 488.0,336.6 488.5,336.2 489.0,335.8 489.5,335.9 490.0,336.0 490.5,335.4 491.0,334.8 491.5,334.9 492.0,335.0 492.5,335.1 493.0,335.3 493.5,334.8 494.0,334.4 494.5,334.6 495.0,334.9 495.5,334.8 496.0,334.6 496.5,334.5 497.0,334.4 497.5,334.9 498.0,335.3 498.5,335.0 499.0,334.6 499.5,334.7 500.0,334.8 500.5,335.0 501.0,335.2 501.5,335.0 502.0,334.8 502.5,335.3 503.0,335.7 503.5,335.5 504.0,335.4 504.5,335.3 505.0,335.3 505.5,335.3 506.0,335.2 506.5,335.4 507.0,335.6 507.5,335.5 508.0,335.4 508.5,335.1 509.0,334.9 509.5,334.4 510.0,334.0 510.5,333.8 511.0,333.6 511.5,333.6 512.0,333.5 512.5,333.0 513.0,332.5 513.5,332.4 514.0,332.4 514.5,332.9 515.0,333.4 515.5,332.7 516.0,332.1 516.5,332.6 517.0,333.2 517.5,333.1 518.0,333.0 518.5,333.2 519.0,333.5 519.5,333.1 520.0,332.6 520.5,332.9 521.0,333.3 521.5,333.8 522.0,334.3 522.5,333.9 523.0,333.4 523.5,333.6 524.0,333.8 524.5,334.1 525.0,334.3 525.5,334.2 526.0,334.1 526.5,334.1 527.0,334.1 527.5,334.5 528.0,334.9 528.5,334.6 529.0,334.2 529.5,334.8 530.0,335.5 530.5,335.3 531.0,335.1 531.5,334.7 532.0,334.3 532.5,334.9 533.0,335.5 533.5,335.1 534.0,334.6 534.5,334.8 535.0,335.0 535.5,335.0 536.0,335.1 536.5,334.8 537.0,334.5 537.5,334.8 538.0,335.0 538.5,334.7 539.0,334.4 539.5,334.5 540.0,334.6 540.5,335.1 541.0,335.6 541.5,335.5 542.0,335.4 542.5,335.2 543.0,335.0 543.5,335.1 544.0,335.2 544.5,335.3 545.0,335.5 545.5,334.9 546.0,334.4 546.5,334.7 547.0,334.9 547.5,334.6 548.0,334.4 548.5,334.4 549.0,334.4 549.5,334.3 550.0,334.3 550.5,334.4 551.0,334.5 551.5,334.3 552.0,334.2 552.5,334.3 553.0,334.4 553.5,334.6 554.0,334.7 554.5,334.8 555.0,335.0 555.5,335.2 556.0,335.3 556.5,335.3 557.0,335.4 557.5,335.2 558.0,335.1 558.5,335.0 559.0,334.8 559.5,335.1 560.0,335.4 560.5,334.9 561.0,334.3 561.5,334.3 562.0,334.3 562.5,334.8 563.0,335.3 563.5,335.1 564.0,335.0 564.5,334.7 565.0,334.4 565.5,334.6 566.0,334.7 566.5,334.6 567.0,334.6 567.5,334.7 568.0,334.8 568.5,334.8 569.0,334.8 569.5,334.8 570.0,334.8 570.5,335.1 571.0,335.3 571.5,335.4 572.0,335.4 572.5,335.2 573.0,335.0 573.5,335.0 574.0,334.9 574.5,334.8 575.0,334.7 575.5,335.0 576.0,335.4 576.5,335.5 577.0,335.7 577.5,335.2 578.0,334.6 578.5,335.0 579.0,335.3 579.5,335.3 580.0,335.3 580.5,335.2 581.0,335.2 581.5,334.8 582.0,334.3 582.5,334.7 583.0,335.0 583.5,334.8 584.0,334.5 584.5,334.5 585.0,334.5 585.5,334.7 586.0,335.0 586.5,335.0 587.0,335.0 587.5,335.0 588.0,335.0 588.5,335.0 589.0,335.1 589.5,335.1 590.0,335.0 590.5,334.8 591.0,334.7 591.5,334.3 592.0,334.0 592.5,334.5 593.0,335.0 593.5,335.0 594.0,335.0 594.5,335.0 595.0,335.0 595.5,334.7 596.0,334.5 596.5,333.9 597.0,333.4 597.5,333.3 598.0,333.2 598.5,333.0 599.0,332.7 599.5,332.9 600.0,333.1 600.5,332.9 601.0,332.8 601.5,332.4 602.0,332.2 602.5,332.8 603.0,333.5 603.5,333.9 604.0,334.2 604.5,334.5 605.0,334.8 605.5,334.7 606.0,334.4 606.5,334.3 607.0,334.0 607.5,333.7 608.0,333.4 608.5,333.5 609.0,333.6 609.5,333.3 610.0,333.0 610.5,332.6 611.0,332.3 611.5,332.8 612.0,333.4 612.5,333.5 613.0,333.5 613.5,333.8 614.0,334.1 614.5,334.5 615.0,334.9 615.5,335.5 616.0,336.0 616.5,336.2 617.0,336.3 617.5,336.6 618.0,336.8 618.5,336.5 619.0,336.1 619.5,336.4 620.0,336.7 620.5,336.2 621.0,335.7 621.5,335.9 622.0,336.2 622.5,335.5 623.0,334.9 623.5,334.8 624.0,334.8 624.5,334.8 625.0,334.8 625.5,334.5 626.0,334.2 626.5,334.1 627.0,334.0 627.5,334.0 628.0,334.1 628.5,333.5 629.0,332.8 629.5,333.2 630.0,333.6 630.5,333.6 631.0,333.6 631.5,333.9 632.0,334.1 632.5,334.1 633.0,334.1 633.5,334.4 634.0,334.7 634.5,334.9 635.0,335.0 635.5,335.4 636.0,335.7 636.5,335.7 637.0,335.7 637.5,335.8 638.0,335.8 638.5,335.9 639.0,336.0 639.5,335.5 640.0,335.0 640.5,334.9 641.0,334.7 641.5,334.5 642.0,334.2 642.5,333.8 643.0,333.4 643.5,333.2 644.0,333.1 644.5,333.5 645.0,333.9 645.5,334.2 646.0,334.5 646.5,334.2 647.0,334.0 647.5,334.4 648.0,334.8 648.5,335.0 649.0,335.1 649.5,335.4 650.0,335.5 650.5,335.4 651.0,335.2 651.5,334.9 652.0,334.6 652.5,334.4 653.0,334.2 653.5,334.6 654.0,334.9 654.5,334.4 655.0,333.9 655.5,333.6 656.0,333.3 656.5,333.8 657.0,334.3 657.5,333.8 658.0,333.2 658.5,333.3 659.0,333.3 659.5,333.3 660.0,333.3 660.5,333.3 661.0,333.3 661.5,333.6 662.0,334.0 662.5,333.7 663.0,333.5 663.5,333.6 664.0,333.7 664.5,333.7 665.0,333.8 665.5,334.1 666.0,334.5 666.5,333.9 667.0,333.4 667.5,333.9 668.0,334.3 668.5,334.1 669.0,334.0 669.5,334.2 670.0,334.5 670.5,335.1 671.0,335.7 671.5,335.9 672.0,336.0 672.5,336.0 673.0,335.9 673.5,336.4 674.0,336.7 674.5,336.9 675.0,337.0 675.5,336.7 676.0,336.4 676.5,336.1 677.0,335.9 677.5,335.9 678.0,335.9 678.5,335.8 679.0,335.8 679.5,335.1 680.0,334.5 680.5,334.5 681.0,334.5 681.5,334.9 682.0,335.2 682.5,335.0 683.0,334.9 683.5,334.2 684.0,333.6 684.5,333.8 685.0,334.1 685.5,334.2 686.0,334.3 686.5,334.2 687.0,334.1 687.5,334.3 688.0,334.6 688.5,334.6 689.0,334.7 689.5,334.8 690.0,334.8 690.5,335.0 691.0,335.2 691.5,335.3 692.0,335.3 692.5,335.9 693.0,336.3 693.5,336.0 694.0,335.6 694.5,335.8 695.0,336.0 695.5,335.7 696.0,335.4 696.5,335.3 697.0,335.1 697.5,335.4 698.0,335.7 698.5,335.2 699.0,334.6 699.5,334.5 700.0,334.3 700.5,334.1 701.0,333.8 701.5,333.5 702.0,333.2 702.5,333.0 703.0,332.9 703.5,333.0 704.0,333.3 704.5,333.5 705.0,333.8 705.5,333.4 706.0,333.1 706.5,333.8 707.0,334.6 707.5,334.7 708.0,334.7 708.5,334.4 709.0,334.1 709.5,334.7 710.0,335.3 710.5,335.2 711.0,335.1 711.5,335.3 712.0,335.6 712.5,335.5 713.0,335.4 713.5,335.8 714.0,336.3 714.5,336.4 715.0,336.4 715.5,336.6 716.0,336.7 716.5,336.4 717.0,336.1 717.5,335.9 718.0,335.6 718.5,335.3 719.0,335.0 719.5,334.3 720.0,333.7 720.5,333.3 721.0,333.0 721.5,333.3 722.0,333.6 722.5,333.4 723.0,333.3 723.5,333.5 724.0,333.8 724.5,334.1 725.0,334.5 725.5,334.9 726.0,335.3 726.5,335.6 727.0,335.8 727.5,336.0 728.0,336.1 728.5,336.3" fill="none" stroke="#0e840e" stroke-width="2.6" stroke-linejoin="round" stroke-linecap="butt"/>
<path d="M20.5,512.0 21.0,511.5 21.5,511.8 22.0,512.1 22.5,511.8 23.0,511.5 23.5,511.0 24.0,510.6 24.5,510.1 25.0,509.7 25.5,510.0 26.0,510.3 26.5,509.8 27.0,509.3 27.5,509.2 28.0,509.2 28.5,509.2 29.0,509.2 29.5,508.9 30.0,508.8 30.5,508.9 31.0,509.1 31.5,508.7 32.0,508.4 32.5,508.8 33.0,509.2 33.5,509.1 34.0,509.0 34.5,509.5 35.0,509.9 35.5,510.0 36.0,510.0 36.5,509.6 37.0,509.1 37.5,509.3 38.0,509.5 38.5,509.7 39.0,509.9 39.5,510.6 40.0,511.3 40.5,511.1 41.0,510.9 41.5,511.1 42.0,511.4 42.5,511.2 43.0,511.0 43.5,511.2 44.0,511.3 44.5,511.1 45.0,510.9 45.5,510.8 46.0,510.6 46.5,510.6 47.0,510.6 47.5,510.5 48.0,510.4 48.5,510.4 49.0,510.5 49.5,510.3 50.0,510.1 50.5,510.2 51.0,510.3 51.5,510.1 52.0,510.0 52.5,510.0 53.0,510.0 53.5,509.6 54.0,509.3 54.5,508.8 55.0,508.3 55.5,508.7 56.0,509.1 56.5,509.1 57.0,509.1 57.5,509.0 58.0,508.9 58.5,508.6 59.0,508.4 59.5,508.5 60.0,508.7 60.5,508.5 61.0,508.3 61.5,508.9 62.0,509.5 62.5,509.5 63.0,509.5 63.5,509.5 64.0,509.5 64.5,509.4 65.0,509.4 65.5,510.0 66.0,510.7 66.5,510.9 67.0,511.2 67.5,510.7 68.0,510.2 68.5,510.8 69.0,511.4 69.5,511.3 70.0,511.1 70.5,511.0 71.0,510.8 71.5,510.9 72.0,511.0 72.5,511.4 73.0,511.7 73.5,511.8 74.0,511.8 74.5,511.3 75.0,510.7 75.5,511.1 76.0,511.5 76.5,511.0 77.0,510.6 77.5,511.1 78.0,511.5 78.5,511.2 79.0,510.9 79.5,511.3 80.0,511.7 80.5,511.7 81.0,511.7 81.5,511.4 82.0,511.0 82.5,511.3 83.0,511.5 83.5,510.9 84.0,510.2 84.5,509.8 85.0,509.4 85.5,509.6 86.0,509.7 86.5,509.1 87.0,508.6 87.5,508.5 88.0,508.5 88.5,508.6 89.0,508.7 89.5,508.8 90.0,509.0 90.5,508.8 91.0,508.6 91.5,508.6 92.0,508.7 92.5,509.4 93.0,510.1 93.5,509.9 94.0,509.6 94.5,510.1 95.0,510.6 95.5,510.6 96.0,510.6 96.5,510.3 97.0,510.0 97.5,510.2 98.0,510.3 98.5,510.4 99.0,510.5 99.5,510.6 100.0,510.7 100.5,510.7 101.0,510.7 101.5,510.7 102.0,510.7 102.5,510.7 103.0,510.7 103.5,510.9 104.0,511.1 104.5,510.7 105.0,510.4 105.5,510.2 106.0,510.1 106.5,510.2 107.0,510.4 107.5,509.9 108.0,509.5 108.5,509.5 109.0,509.5 109.5,509.9 110.0,510.3 110.5,509.9 111.0,509.6 111.5,509.6 112.0,509.6 112.5,509.2 113.0,508.8 113.5,509.1 114.0,509.4 114.5,509.5 115.0,509.6 115.5,509.3 116.0,508.9 116.5,509.3 117.0,509.7 117.5,509.7 118.0,509.7 118.5,509.2 119.0,508.7 119.5,509.0 120.0,509.2 120.5,508.9 121.0,508.5 121.5,508.5 122.0,508.4 122.5,508.0 123.0,507.6 123.5,507.7 124.0,507.9 124.5,507.9 125.0,507.9 125.5,507.6 126.0,507.3 126.5,507.7 127.0,508.1 127.5,509.0 128.0,509.9 128.5,510.6 129.0,511.3 129.5,511.2 130.0,511.1 130.5,511.5 131.0,511.9 131.5,512.0 132.0,512.1 132.5,511.7 133.0,511.2 133.5,510.8 134.0,510.4 134.5,509.9 135.0,509.4 135.5,509.0 136.0,508.6 136.5,508.3 137.0,508.1 137.5,507.7 138.0,507.3 138.5,507.3 139.0,507.4 139.5,507.7 140.0,508.1 140.5,507.6 141.0,507.2 141.5,507.7 142.0,508.3 142.5,508.5 143.0,508.8 143.5,508.6 144.0,508.4 144.5,508.4 145.0,508.4 145.5,508.8 146.0,509.3 146.5,508.9 147.0,508.5 147.5,508.5 148.0,508.5 148.5,508.7 149.0,508.9 149.5,509.1 150.0,509.3 150.5,508.9 151.0,508.5 151.5,508.6 152.0,508.8 152.5,508.8 153.0,508.8 153.5,509.2 154.0,509.5 154.5,509.2 155.0,508.9 155.5,509.2 156.0,509.4 156.5,508.9 157.0,508.4 157.5,508.4 158.0,508.5 158.5,508.6 159.0,508.8 159.5,508.9 160.0,509.0 160.5,508.6 161.0,508.2 161.5,507.9 162.0,507.7 162.5,507.5 163.0,507.3 163.5,507.5 164.0,507.7 164.5,507.4 165.0,507.1 165.5,507.5 166.0,507.8 166.5,507.8 167.0,507.8 167.5,507.3 168.0,506.8 168.5,506.8 169.0,506.9 169.5,507.3 170.0,507.7 170.5,507.7 171.0,507.7 171.5,508.0 172.0,508.3 172.5,508.2 173.0,508.1 173.5,508.2 174.0,508.3 174.5,508.6 175.0,508.9 175.5,509.4 176.0,509.9 176.5,509.7 177.0,509.4 177.5,509.7 178.0,509.9 178.5,510.1 179.0,510.4 179.5,510.6 180.0,510.7 180.5,510.9 181.0,511.0 181.5,511.4 182.0,511.8 182.5,511.2 183.0,510.6 183.5,510.2 184.0,509.8 184.5,510.1 185.0,510.4 185.5,510.0 186.0,509.6 186.5,509.3 187.0,509.0 187.5,508.4 188.0,507.8 188.5,508.1 189.0,508.5 189.5,508.6 190.0,508.9 190.5,508.7 191.0,508.6 191.5,509.5 192.0,510.3 192.5,510.8 193.0,511.3 193.5,511.6 194.0,511.8 194.5,511.9 195.0,511.8 195.5,511.6 196.0,511.2 196.5,510.9 197.0,510.5 197.5,509.9 198.0,509.4 198.5,508.7 199.0,508.2 199.5,508.1 200.0,508.2 200.5,507.7 201.0,507.5 201.5,507.9 202.0,508.3 202.5,507.8 203.0,507.4 203.5,508.2 204.0,509.0 204.5,509.0 205.0,509.0 205.5,509.4 206.0,509.7 206.5,509.8 207.0,509.9 207.5,510.0 208.0,510.1 208.5,509.9 209.0,509.6 209.5,509.2 210.0,508.8 210.5,509.3 211.0,509.8 211.5,509.4 212.0,508.9 212.5,509.0 213.0,509.0 213.5,509.2 214.0,509.5 214.5,509.3 215.0,509.2 215.5,509.2 216.0,509.1 216.5,509.4 217.0,509.8 217.5,509.6 218.0,509.3 218.5,509.2 219.0,509.0 219.5,508.9 220.0,508.8 220.5,509.3 221.0,509.7 221.5,509.4 222.0,509.2 222.5,509.4 223.0,509.6 223.5,509.3 224.0,509.0 224.5,508.9 225.0,508.8 225.5,509.0 226.0,509.2 226.5,509.4 227.0,509.6 227.5,509.2 228.0,508.7 228.5,509.2 229.0,509.6 229.5,509.7 230.0,509.8 230.5,509.7 231.0,509.6 231.5,509.6 232.0,509.7 232.5,509.1 233.0,508.5 233.5,509.0 234.0,509.4 234.5,509.6 235.0,509.7 235.5,509.2 236.0,508.6 236.5,508.7 237.0,508.9 237.5,508.9 238.0,508.9 238.5,509.1 239.0,509.3 239.5,509.2 240.0,509.1 240.5,509.2 241.0,509.2 241.5,509.4 242.0,509.6 242.5,509.1 243.0,508.5 243.5,508.6 244.0,508.6 244.5,508.7 245.0,508.7 245.5,508.7 246.0,508.7 246.5,508.7 247.0,508.6 247.5,509.3 248.0,509.9 248.5,509.8 249.0,509.7 249.5,509.2 250.0,508.6 250.5,508.9 251.0,509.2 251.5,509.0 252.0,508.8 252.5,508.8 253.0,508.7 253.5,508.7 254.0,508.7 254.5,508.8 255.0,509.0 255.5,508.9 256.0,508.8 256.5,508.6 257.0,508.4 257.5,508.2 258.0,508.1 258.5,508.1 259.0,508.1 259.5,507.9 260.0,507.6 260.5,507.8 261.0,508.0 261.5,507.9 262.0,507.9 262.5,507.6 263.0,507.2 263.5,506.9 264.0,506.6 264.5,506.7 265.0,506.7 265.5,507.0 266.0,507.2 266.5,507.6 267.0,508.0 267.5,508.4 268.0,508.9 268.5,508.9 269.0,508.8 269.5,509.4 270.0,509.8 270.5,509.8 271.0,509.8 271.5,509.9 272.0,509.9 272.5,510.1 273.0,510.2 273.5,510.5 274.0,510.8 274.5,511.1 275.0,511.4 275.5,511.4 276.0,511.3 276.5,511.6 277.0,511.8 277.5,511.6 278.0,511.3 278.5,511.0 279.0,510.7 279.5,510.7 280.0,510.6 280.5,510.3 281.0,509.9 281.5,508.7 282.0,507.4 282.5,506.4 283.0,505.0 283.5,502.9 284.0,500.1 284.5,497.1 285.0,493.3 285.5,488.7 286.0,483.5 286.5,477.5 287.0,471.5 287.5,466.6 288.0,462.2 288.5,458.3 289.0,455.7 289.5,454.2 290.0,454.1 290.5,455.3 291.0,457.3 291.5,459.6 292.0,462.6 292.5,466.7 293.0,471.1 293.5,475.1 294.0,479.2 294.5,483.4 295.0,487.4 295.5,490.9 296.0,494.1 296.5,496.8 297.0,499.2 297.5,501.4 298.0,503.1 298.5,504.4 299.0,505.4 299.5,506.0 300.0,506.4 300.5,507.2 301.0,507.8 301.5,507.5 302.0,507.2 302.5,507.3 303.0,507.3 303.5,507.6 304.0,508.0 304.5,507.3 305.0,506.7 305.5,506.6 306.0,506.5 306.5,506.5 307.0,506.4 307.5,507.0 308.0,507.6 308.5,507.2 309.0,506.8 309.5,506.9 310.0,507.0 310.5,507.8 311.0,508.6 311.5,508.3 312.0,508.1 312.5,508.8 313.0,509.5 313.5,509.6 314.0,509.6 314.5,509.9 315.0,510.0 315.5,510.2 316.0,510.1 316.5,509.7 317.0,509.1 317.5,508.9 318.0,508.8 318.5,508.0 319.0,507.4 319.5,507.9 320.0,508.5 320.5,508.4 321.0,508.4 321.5,508.7 322.0,509.0 322.5,508.8 323.0,508.6 323.5,509.2 324.0,509.8 324.5,510.0 325.0,510.2 325.5,509.6 326.0,508.8 326.5,508.8 327.0,508.7 327.5,508.6 328.0,508.5 328.5,508.5 329.0,508.7 329.5,508.3 330.0,507.9 330.5,508.0 331.0,508.1 331.5,508.3 332.0,508.5 332.5,508.9 333.0,509.3 333.5,509.5 334.0,509.6 334.5,509.2 335.0,508.8 335.5,508.4 336.0,507.7 336.5,506.8 337.0,505.5 337.5,503.5 338.0,500.8 338.5,497.4 339.0,492.8 339.5,486.8 340.0,479.4 340.5,471.1 341.0,461.4 341.5,450.3 342.0,438.0 342.5,424.3 343.0,410.2 343.5,396.9 344.0,384.6 344.5,373.1 345.0,363.8 345.5,358.0 346.0,355.3 346.5,355.3 347.0,357.4 347.5,361.1 348.0,366.6 348.5,373.4 349.0,381.5 349.5,390.7 350.0,400.5 350.5,410.8 351.0,421.2 351.5,431.6 352.0,441.5 352.5,450.1 353.0,458.1 353.5,465.7 354.0,472.5 354.5,479.0 355.0,484.6 355.5,489.1 356.0,492.8 356.5,495.5 357.0,497.6 357.5,499.5 358.0,500.9 358.5,502.2 359.0,503.3 359.5,503.6 360.0,503.7 360.5,504.1 361.0,504.5 361.5,504.6 362.0,504.8 362.5,505.2 363.0,505.6 363.5,505.6 364.0,505.7 364.5,505.9 365.0,506.1 365.5,506.8 366.0,507.4 366.5,507.9 367.0,508.3 367.5,508.1 368.0,507.8 368.5,508.2 369.0,508.7 369.5,508.7 370.0,508.7 370.5,509.3 371.0,509.8 371.5,509.8 372.0,509.7 372.5,509.5 373.0,509.2 373.5,509.2 374.0,509.0 374.5,508.8 375.0,508.5 375.5,508.7 376.0,508.9 376.5,508.7 377.0,508.5 377.5,508.2 378.0,508.0 378.5,508.0 379.0,508.1 379.5,508.0 380.0,507.9 380.5,508.3 381.0,508.7 381.5,508.4 382.0,508.1 382.5,508.8 383.0,509.6 383.5,509.5 384.0,509.3 384.5,509.6 385.0,509.9 385.5,510.1 386.0,510.2 386.5,510.6 387.0,510.9 387.5,511.0 388.0,511.0 388.5,510.8 389.0,510.6 389.5,510.4 390.0,510.2 390.5,510.2 391.0,510.2 391.5,510.1 392.0,510.0 392.5,509.4 393.0,508.8 393.5,508.8 394.0,508.8 394.5,508.7 395.0,508.5 395.5,507.9 396.0,507.2 396.5,506.7 397.0,506.1 397.5,505.6 398.0,504.9 398.5,504.4 399.0,503.8 399.5,502.5 400.0,501.1 400.5,499.6 401.0,497.9 401.5,495.6 402.0,493.2 402.5,490.2 403.0,487.0 403.5,484.2 404.0,481.4 404.5,478.7 405.0,476.2 405.5,473.9 406.0,471.9 406.5,470.6 407.0,469.9 407.5,469.4 408.0,469.4 408.5,469.8 409.0,470.8 409.5,471.7 410.0,473.1 410.5,475.7 411.0,478.6 411.5,480.8 412.0,483.1 412.5,485.9 413.0,488.7 413.5,491.4 414.0,494.0 414.5,495.8 415.0,497.3 415.5,499.1 416.0,500.6 416.5,502.5 417.0,504.1 417.5,504.6 418.0,505.0 418.5,505.7 419.0,506.3 419.5,506.9 420.0,507.5 420.5,507.9 421.0,508.3 421.5,508.1 422.0,507.9 422.5,508.4 423.0,508.8 423.5,509.1 424.0,509.4 424.5,509.6 425.0,509.8 425.5,509.8 426.0,509.7 426.5,510.1 427.0,510.5 427.5,510.8 428.0,511.1 428.5,510.7 429.0,510.3 429.5,510.4 430.0,510.5 430.5,510.1 431.0,509.7 431.5,509.7 432.0,509.7 432.5,509.9 433.0,510.0 433.5,509.5 434.0,509.0 434.5,509.4 435.0,509.8 435.5,509.7 436.0,509.6 436.5,508.9 437.0,508.2 437.5,508.7 438.0,509.2 438.5,508.7 439.0,508.3 439.5,508.5 440.0,508.7 440.5,508.7 441.0,508.6 441.5,508.3 442.0,507.9 442.5,508.1 443.0,508.4 443.5,508.3 444.0,508.3 444.5,508.3 445.0,508.4 445.5,508.0 446.0,507.6 446.5,508.0 447.0,508.3 447.5,508.5 448.0,508.6 448.5,508.4 449.0,508.3 449.5,508.2 450.0,508.2 450.5,507.9 451.0,507.7 451.5,508.0 452.0,508.4 452.5,508.4 453.0,508.4 453.5,508.8 454.0,509.1 454.5,509.2 455.0,509.3 455.5,509.3 456.0,509.3 456.5,509.2 457.0,509.0 457.5,509.4 458.0,509.9 458.5,509.9 459.0,510.0 459.5,509.7 460.0,509.5 460.5,510.0 461.0,510.5 461.5,510.4 462.0,510.2 462.5,509.8 463.0,509.4 463.5,510.0 464.0,510.5 464.5,509.9 465.0,509.2 465.5,509.3 466.0,509.4 466.5,509.6 467.0,509.7 467.5,509.6 468.0,509.4 468.5,509.3 469.0,509.2 469.5,509.1 470.0,509.1 470.5,508.9 471.0,508.7 471.5,508.5 472.0,508.3 472.5,508.2 473.0,508.0 473.5,507.9 474.0,507.8 474.5,508.2 475.0,508.7 475.5,508.7 476.0,508.7 476.5,508.6 477.0,508.4 477.5,508.5 478.0,508.7 478.5,508.4 479.0,508.2 479.5,508.1 480.0,508.0 480.5,508.1 481.0,508.2 481.5,508.6 482.0,508.9 482.5,508.4 483.0,507.8 483.5,508.1 484.0,508.4 484.5,508.3 485.0,508.1 485.5,508.4 486.0,508.8 486.5,508.5 487.0,508.2 487.5,508.2 488.0,508.1 488.5,508.1 489.0,508.2 489.5,508.2 490.0,508.2 490.5,508.3 491.0,508.4 491.5,508.1 492.0,507.7 492.5,508.0 493.0,508.3 493.5,507.7 494.0,507.1 494.5,507.1 495.0,507.2 495.5,507.0 496.0,506.8 496.5,506.8 497.0,506.7 497.5,507.2 498.0,507.6 498.5,507.6 499.0,507.5 499.5,507.1 500.0,506.8 500.5,506.8 501.0,506.9 501.5,507.2 502.0,507.5 502.5,507.9 503.0,508.3 503.5,508.5 504.0,508.8 504.5,508.9 505.0,509.1 505.5,509.2 506.0,509.3 506.5,509.2 507.0,509.0 507.5,509.4 508.0,509.7 508.5,509.6 509.0,509.6 509.5,509.8 510.0,510.0 510.5,510.1 511.0,510.0 511.5,509.7 512.0,509.4 512.5,509.4 513.0,509.3 513.5,509.6 514.0,509.9 514.5,509.3 515.0,508.6 515.5,509.1 516.0,509.5 516.5,509.4 517.0,509.4 517.5,509.3 518.0,509.3 518.5,508.8 519.0,508.4 519.5,508.4 520.0,508.5 520.5,508.5 521.0,508.5 521.5,508.4 522.0,508.4 522.5,508.6 523.0,508.8 523.5,508.5 524.0,508.3 524.5,508.0 525.0,507.7 525.5,508.0 526.0,508.4 526.5,508.2 527.0,507.9 527.5,508.0 528.0,508.3 528.5,508.8 529.0,509.4 529.5,509.5 530.0,509.6 530.5,510.7 531.0,511.5 531.5,511.5 532.0,511.4 532.5,511.2 533.0,510.9 533.5,510.8 534.0,510.6 534.5,510.3 535.0,510.1 535.5,509.6 536.0,509.2 536.5,509.2 537.0,509.3 537.5,508.8 538.0,508.3 538.5,508.5 539.0,508.8 539.5,508.9 540.0,508.9 540.5,508.8 541.0,508.6 541.5,508.7 542.0,508.8 542.5,509.1 543.0,509.4 543.5,509.3 544.0,509.3 544.5,508.8 545.0,508.3 545.5,508.7 546.0,509.2 546.5,509.1 547.0,509.0 547.5,508.6 548.0,508.2 548.5,508.4 549.0,508.6 549.5,508.5 550.0,508.4 550.5,508.3 551.0,508.2 551.5,508.5 552.0,508.7 552.5,509.0 553.0,509.2 553.5,508.7 554.0,508.2 554.5,508.5 555.0,508.8 555.5,508.7 556.0,508.5 556.5,508.0 557.0,507.5 557.5,508.0 558.0,508.4 558.5,508.2 559.0,507.9 559.5,508.1 560.0,508.3 560.5,508.1 561.0,507.9 561.5,507.9 562.0,507.9 562.5,507.6 563.0,507.3 563.5,507.6 564.0,507.9 564.5,508.1 565.0,508.2 565.5,508.2 566.0,508.3 566.5,508.1 567.0,507.9 567.5,508.2 568.0,508.6 568.5,508.5 569.0,508.4 569.5,508.3 570.0,508.1 570.5,508.2 571.0,508.2 571.5,508.3 572.0,508.4 572.5,508.6 573.0,508.7 573.5,508.8 574.0,508.8 574.5,509.2 575.0,509.5 575.5,509.8 576.0,510.1 576.5,510.1 577.0,510.1 577.5,510.1 578.0,510.2 578.5,510.4 579.0,510.7 579.5,510.6 580.0,510.4 580.5,510.6 581.0,510.7 581.5,511.0 582.0,511.2 582.5,510.9 583.0,510.6 583.5,510.4 584.0,510.2 584.5,510.6 585.0,511.0 585.5,510.8 586.0,510.5 586.5,510.2 587.0,509.8 587.5,509.7 588.0,509.6 588.5,509.6 589.0,509.6 589.5,509.5 590.0,509.4 590.5,509.1 591.0,508.7 591.5,508.5 592.0,508.3 592.5,508.4 593.0,508.5 593.5,508.8 594.0,509.1 594.5,508.6 595.0,508.1 595.5,508.2 596.0,508.3 596.5,508.1 597.0,507.8 597.5,507.7 598.0,507.6 598.5,507.5 599.0,507.4 599.5,507.4 600.0,507.5 600.5,507.3 601.0,507.1 601.5,506.9 602.0,506.8 602.5,506.9 603.0,506.9 603.5,507.0 604.0,507.1 604.5,507.6 605.0,508.3 605.5,508.6 606.0,508.9 606.5,509.5 607.0,510.1 607.5,510.9 608.0,511.6 608.5,511.7 609.0,511.7 609.5,511.8 610.0,511.9 610.5,511.3 611.0,510.7 611.5,510.8 612.0,510.8 612.5,510.6 613.0,510.4 613.5,509.9 614.0,509.5 614.5,510.1 615.0,510.7 615.5,510.1 616.0,509.6 616.5,509.5 617.0,509.4 617.5,509.7 618.0,509.9 618.5,509.7 619.0,509.5 619.5,509.9 620.0,510.2 620.5,510.0 621.0,509.8 621.5,509.7 622.0,509.5 622.5,509.4 623.0,509.3 623.5,509.7 624.0,510.1 624.5,509.7 625.0,509.3 625.5,509.6 626.0,509.8 626.5,509.5 627.0,509.2 627.5,509.4 628.0,509.6 628.5,509.0 629.0,508.5 629.5,508.4 630.0,508.3 630.5,508.2 631.0,508.2 631.5,508.5 632.0,508.8 632.5,508.7 633.0,508.6 633.5,508.4 634.0,508.3 634.5,508.3 635.0,508.3 635.5,509.0 636.0,509.6 636.5,510.1 637.0,510.6 637.5,510.6 638.0,510.5 638.5,510.4 639.0,510.2 639.5,510.3 640.0,510.5 640.5,510.6 641.0,510.6 641.5,510.7 642.0,510.7 642.5,510.5 643.0,510.4 643.5,510.3 644.0,510.2 644.5,510.5 645.0,510.8 645.5,510.9 646.0,510.9 646.5,510.3 647.0,509.7 647.5,510.1 648.0,510.5 648.5,510.1 649.0,509.6 649.5,509.8 650.0,509.9 650.5,509.9 651.0,509.9 651.5,509.7 652.0,509.6 652.5,508.8 653.0,507.9 653.5,507.9 654.0,507.9 654.5,507.9 655.0,507.9 655.5,508.0 656.0,508.0 656.5,507.3 657.0,506.6 657.5,506.6 658.0,506.7 658.5,507.1 659.0,507.5 659.5,507.0 660.0,506.6 660.5,506.9 661.0,507.1 661.5,507.2 662.0,507.3 662.5,507.7 663.0,508.1 663.5,508.4 664.0,508.7 664.5,508.3 665.0,507.9 665.5,508.5 666.0,509.0 666.5,509.2 667.0,509.3 667.5,509.5 668.0,509.7 668.5,509.5 669.0,509.4 669.5,509.7 670.0,510.0 670.5,509.7 671.0,509.4 671.5,509.5 672.0,509.6 672.5,509.5 673.0,509.4 673.5,509.9 674.0,510.3 674.5,510.2 675.0,510.0 675.5,509.9 676.0,509.8 676.5,509.8 677.0,509.8 677.5,510.2 678.0,510.6 678.5,510.5 679.0,510.5 679.5,510.5 680.0,510.6 680.5,510.3 681.0,510.0 681.5,510.0 682.0,509.9 682.5,509.6 683.0,509.2 683.5,509.4 684.0,509.6 684.5,508.9 685.0,508.2 685.5,508.4 686.0,508.5 686.5,508.5 687.0,508.6 687.5,508.4 688.0,508.2 688.5,507.7 689.0,507.3 689.5,507.3 690.0,507.5 690.5,508.0 691.0,508.6 691.5,508.7 692.0,508.8 692.5,509.2 693.0,509.7 693.5,510.0 694.0,510.3 694.5,510.3 695.0,510.3 695.5,510.8 696.0,511.2 696.5,511.2 697.0,511.1 697.5,510.8 698.0,510.5 698.5,510.4 699.0,510.4 699.5,510.0 700.0,509.7 700.5,509.8 701.0,509.8 701.5,510.1 702.0,510.3 702.5,509.5 703.0,508.8 703.5,509.0 704.0,509.2 704.5,508.8 705.0,508.5 705.5,508.4 706.0,508.3 706.5,508.7 707.0,509.1 707.5,508.8 708.0,508.5 708.5,508.4 709.0,508.3 709.5,508.4 710.0,508.5 710.5,508.8 711.0,509.2 711.5,509.2 712.0,509.2 712.5,508.8 713.0,508.4 713.5,508.6 714.0,508.8 714.5,509.3 715.0,509.9 715.5,509.4 716.0,508.9 716.5,509.2 717.0,509.5 717.5,509.4 718.0,509.4 718.5,509.7 719.0,510.0 719.5,509.9 720.0,509.8 720.5,509.9 721.0,510.1 721.5,510.0 722.0,509.8 722.5,509.6 723.0,509.4 723.5,509.5 724.0,509.6 724.5,509.6 725.0,509.7 725.5,510.3 726.0,510.9 726.5,510.6 727.0,510.1 727.5,510.2 728.0,510.1 728.5,510.8" fill="none" stroke="#12e612" stroke-width="2.6" stroke-linejoin="round" stroke-linecap="butt"/>
<path d="M20.5,686.3 21.0,686.5 21.5,686.5 22.0,686.6 22.5,686.7 23.0,686.8 23.5,686.8 24.0,686.8 24.5,686.3 25.0,685.8 25.5,686.1 26.0,686.4 26.5,686.5 27.0,686.5 27.5,686.4 28.0,686.3 28.5,686.1 29.0,685.9 29.5,686.1 30.0,686.3 30.5,686.0 31.0,685.8 31.5,686.3 32.0,686.9 32.5,686.8 33.0,686.8 33.5,686.6 34.0,686.4 34.5,686.2 35.0,686.0 35.5,686.4 36.0,686.8 36.5,686.6 37.0,686.4 37.5,686.6 38.0,686.8 38.5,686.8 39.0,686.8 39.5,686.5 40.0,686.3 40.5,686.2 41.0,686.2 41.5,686.3 42.0,686.4 42.5,686.3 43.0,686.2 43.5,686.0 44.0,685.9 44.5,686.0 45.0,686.0 45.5,686.4 46.0,686.7 46.5,686.2 47.0,685.7 47.5,685.7 48.0,685.7 48.5,686.1 49.0,686.5 49.5,686.2 50.0,686.0 50.5,686.2 51.0,686.3 51.5,686.3 52.0,686.3 52.5,686.2 53.0,686.1 53.5,686.5 54.0,686.9 54.5,686.4 55.0,685.9 55.5,686.0 56.0,686.2 56.5,686.1 57.0,685.9 57.5,686.2 58.0,686.5 58.5,686.2 59.0,686.0 59.5,686.1 60.0,686.1 60.5,686.4 61.0,686.6 61.5,686.3 62.0,686.1 62.5,686.2 63.0,686.4 63.5,686.6 64.0,686.8 64.5,686.3 65.0,685.8 65.5,685.8 66.0,685.7 66.5,685.8 67.0,685.9 67.5,686.3 68.0,686.6 68.5,686.5 69.0,686.5 69.5,686.2 70.0,686.0 70.5,686.0 71.0,686.1 71.5,686.0 72.0,685.9 72.5,686.1 73.0,686.2 73.5,686.0 74.0,685.7 74.5,686.1 75.0,686.6 75.5,686.7 76.0,686.8 76.5,686.9 77.0,686.9 77.5,686.7 78.0,686.6 78.5,686.8 79.0,686.9 79.5,686.3 80.0,685.7 80.5,685.8 81.0,686.0 81.5,686.5 82.0,686.9 82.5,686.8 83.0,686.7 83.5,686.4 84.0,686.2 84.5,686.5 85.0,686.9 85.5,686.7 86.0,686.5 86.5,686.6 87.0,686.7 87.5,686.4 88.0,686.0 88.5,686.0 89.0,685.9 89.5,686.1 90.0,686.2 90.5,686.0 91.0,685.8 91.5,686.0 92.0,686.1 92.5,686.5 93.0,686.9 93.5,686.5 94.0,686.1 94.5,685.9 95.0,685.7 95.5,685.7 96.0,685.7 96.5,685.8 97.0,685.9 97.5,686.3 98.0,686.7 98.5,686.4 99.0,686.1 99.5,686.1 100.0,686.0 100.5,685.9 101.0,685.8 101.5,686.4 102.0,686.9 102.5,686.6 103.0,686.2 103.5,686.1 104.0,685.9 104.5,685.8 105.0,685.7 105.5,685.7 106.0,685.7 106.5,685.8 107.0,685.9 107.5,686.2 108.0,686.5 108.5,686.2 109.0,685.8 109.5,685.8 110.0,685.7 110.5,686.0 111.0,686.3 111.5,686.1 112.0,686.0 112.5,686.5 113.0,686.9 113.5,686.4 114.0,685.8 114.5,686.1 115.0,686.3 115.5,686.5 116.0,686.7 116.5,686.4 117.0,686.2 117.5,686.6 118.0,686.9 118.5,686.6 119.0,686.3 119.5,686.1 120.0,686.0 120.5,686.1 121.0,686.2 121.5,685.9 122.0,685.7 122.5,685.9 123.0,686.2 123.5,686.1 124.0,686.0 124.5,686.4 125.0,686.8 125.5,686.8 126.0,686.7 126.5,686.5 127.0,686.3 127.5,686.0 128.0,685.7 128.5,685.8 129.0,686.0 129.5,686.0 130.0,686.0 130.5,685.9 131.0,685.9 131.5,685.9 132.0,686.0 132.5,686.4 133.0,686.8 133.5,686.3 134.0,685.8 134.5,685.8 135.0,685.7 135.5,686.3 136.0,686.9 136.5,686.6 137.0,686.4 137.5,686.7 138.0,686.9 138.5,686.6 139.0,686.2 139.5,686.5 140.0,686.8 140.5,686.7 141.0,686.5 141.5,686.6 142.0,686.7 142.5,686.6 143.0,686.6 143.5,686.5 144.0,686.3 144.5,686.0 145.0,685.8 145.5,685.8 146.0,685.9 146.5,686.4 147.0,686.8 147.5,686.8 148.0,686.8 148.5,686.8 149.0,686.9 149.5,686.5 150.0,686.1 150.5,686.3 151.0,686.5 151.5,686.6 152.0,686.7 152.5,686.6 153.0,686.5 153.5,686.6 154.0,686.7 154.5,686.5 155.0,686.3 155.5,686.4 156.0,686.5 156.5,686.5 157.0,686.5 157.5,686.3 158.0,686.0 158.5,686.4 159.0,686.8 159.5,686.9 160.0,686.9 160.5,686.3 161.0,685.7 161.5,686.3 162.0,686.9 162.5,686.9 163.0,686.9 163.5,686.7 164.0,686.5 164.5,686.1 165.0,685.7 165.5,686.3 166.0,686.8 166.5,686.3 167.0,685.8 167.5,686.4 168.0,686.9 168.5,686.7 169.0,686.5 169.5,686.1 170.0,685.7 170.5,685.8 171.0,685.9 171.5,686.2 172.0,686.5 172.5,686.4 173.0,686.4 173.5,686.5 174.0,686.6 174.5,686.7 175.0,686.9 175.5,686.4 176.0,685.9 176.5,685.8 177.0,685.7 177.5,686.3 178.0,686.8 178.5,686.3 179.0,685.7 179.5,686.2 180.0,686.8 180.5,686.3 181.0,685.8 181.5,686.3 182.0,686.7 182.5,686.7 183.0,686.7 183.5,686.7 184.0,686.8 184.5,686.6 185.0,686.4 185.5,686.6 186.0,686.8 186.5,686.4 187.0,685.9 187.5,686.2 188.0,686.5 188.5,686.3 189.0,686.1 189.5,686.4 190.0,686.8 190.5,686.7 191.0,686.7 191.5,686.5 192.0,686.3 192.5,686.3 193.0,686.3 193.5,686.0 194.0,685.7 194.5,685.7 195.0,685.7 195.5,686.1 196.0,686.4 196.5,686.4 197.0,686.3 197.5,686.5 198.0,686.8 198.5,686.6 199.0,686.4 199.5,686.1 200.0,685.8 200.5,686.0 201.0,686.1 201.5,686.4 202.0,686.6 202.5,686.5 203.0,686.3 203.5,686.0 204.0,685.7 204.5,686.2 205.0,686.7 205.5,686.7 206.0,686.7 206.5,686.2 207.0,685.8 207.5,686.1 208.0,686.4 208.5,686.3 209.0,686.1 209.5,686.4 210.0,686.7 210.5,686.4 211.0,686.1 211.5,686.0 212.0,686.0 212.5,686.1 213.0,686.3 213.5,686.6 214.0,686.9 214.5,686.3 215.0,685.8 215.5,685.8 216.0,685.8 216.5,686.1 217.0,686.5 217.5,686.6 218.0,686.8 218.5,686.6 219.0,686.3 219.5,686.3 220.0,686.2 220.5,686.5 221.0,686.8 221.5,686.7 222.0,686.7 222.5,686.2 223.0,685.7 223.5,686.3 224.0,686.8 224.5,686.4 225.0,685.9 225.5,686.0 226.0,686.0 226.5,686.4 227.0,686.7 227.5,686.5 228.0,686.2 228.5,686.4 229.0,686.7 229.5,686.3 230.0,685.9 230.5,686.3 231.0,686.8 231.5,686.3 232.0,685.9 232.5,685.9 233.0,685.8 233.5,686.1 234.0,686.3 234.5,686.2 235.0,686.1 235.5,686.2 236.0,686.4 236.5,686.6 237.0,686.8 237.5,686.7 238.0,686.6 238.5,686.1 239.0,685.7 239.5,685.9 240.0,686.1 240.5,686.2 241.0,686.4 241.5,686.3 242.0,686.3 242.5,686.4 243.0,686.6 243.5,686.4 244.0,686.3 244.5,686.0 245.0,685.7 245.5,685.9 246.0,686.0 246.5,686.4 247.0,686.8 247.5,686.4 248.0,686.1 248.5,686.4 249.0,686.6 249.5,686.8 250.0,686.9 250.5,686.7 251.0,686.5 251.5,686.5 252.0,686.5 252.5,686.5 253.0,686.4 253.5,686.2 254.0,686.1 254.5,686.4 255.0,686.8 255.5,686.5 256.0,686.3 256.5,686.5 257.0,686.8 257.5,686.4 258.0,686.0 258.5,686.4 259.0,686.8 259.5,686.7 260.0,686.7 260.5,686.6 261.0,686.4 261.5,686.3 262.0,686.2 262.5,686.0 263.0,685.8 263.5,686.2 264.0,686.7 264.5,686.4 265.0,686.1 265.5,686.3 266.0,686.5 266.5,686.2 267.0,685.8 267.5,685.8 268.0,685.8 268.5,685.8 269.0,685.8 269.5,686.3 270.0,686.7 270.5,686.3 271.0,685.9 271.5,686.4 272.0,686.8 272.5,686.5 273.0,686.1 273.5,686.3 274.0,686.4 274.5,686.3 275.0,686.1 275.5,686.3 276.0,686.5 276.5,686.1 277.0,685.8 277.5,686.0 278.0,686.2 278.5,686.5 279.0,686.9 279.5,686.4 280.0,685.9 280.5,686.2 281.0,686.5 281.5,686.3 282.0,686.1 282.5,686.1 283.0,686.0 283.5,685.9 284.0,685.7 284.5,685.7 285.0,685.7 285.5,686.3 286.0,686.9 286.5,686.8 287.0,686.7 287.5,686.7 288.0,686.7 288.5,686.7 289.0,686.7 289.5,686.8 290.0,686.9 290.5,686.4 291.0,685.9 291.5,686.1 292.0,686.4 292.5,686.4 293.0,686.3 293.5,686.3 294.0,686.4 294.5,686.6 295.0,686.9 295.5,686.8 296.0,686.6 296.5,686.8 297.0,686.9 297.5,686.4 298.0,685.8 298.5,686.1 299.0,686.5 299.5,686.5 300.0,686.5 300.5,686.6 301.0,686.6 301.5,686.5 302.0,686.5 302.5,686.6 303.0,686.7 303.5,686.4 304.0,686.0 304.5,686.4 305.0,686.9 305.5,686.5 306.0,686.2 306.5,686.3 307.0,686.4 307.5,686.6 308.0,686.8 308.5,686.7 309.0,686.5 309.5,686.3 310.0,686.0 310.5,685.9 311.0,685.8 311.5,685.7 312.0,685.7 312.5,685.7 313.0,685.6 313.5,685.5 314.0,685.2 314.5,684.5 315.0,683.6 315.5,682.1 316.0,680.5 316.5,678.8 317.0,676.8 317.5,674.8 318.0,672.4 318.5,669.1 319.0,665.4 319.5,662.1 320.0,658.5 320.5,654.6 321.0,650.9 321.5,647.7 322.0,644.9 322.5,642.7 323.0,641.1 323.5,640.0 324.0,639.8 324.5,640.1 325.0,641.1 325.5,642.6 326.0,644.7 326.5,647.8 327.0,651.3 327.5,654.5 328.0,657.7 328.5,660.9 329.0,664.0 329.5,667.2 330.0,670.1 330.5,673.4 331.0,676.4 331.5,678.5 332.0,680.3 332.5,681.7 333.0,682.9 333.5,683.7 334.0,684.2 334.5,684.6 335.0,684.9 335.5,685.1 336.0,685.2 336.5,685.5 337.0,685.7 337.5,685.8 338.0,685.8 338.5,686.3 339.0,686.8 339.5,686.8 340.0,686.8 340.5,686.7 341.0,686.7 341.5,686.2 342.0,685.8 342.5,685.9 343.0,686.0 343.5,686.0 344.0,686.0 344.5,686.5 345.0,686.9 345.5,686.4 346.0,685.9 346.5,686.3 347.0,686.7 347.5,686.6 348.0,686.5 348.5,686.4 349.0,686.4 349.5,686.6 350.0,686.9 350.5,686.4 351.0,686.0 351.5,686.2 352.0,686.3 352.5,686.1 353.0,685.9 353.5,685.8 354.0,685.8 354.5,685.7 355.0,685.7 355.5,685.9 356.0,686.1 356.5,685.9 357.0,685.8 357.5,685.8 358.0,685.7 358.5,686.3 359.0,686.9 359.5,686.5 360.0,686.0 360.5,686.4 361.0,686.8 361.5,686.7 362.0,686.6 362.5,686.6 363.0,686.6 363.5,686.6 364.0,686.5 364.5,686.7 365.0,686.9 365.5,686.8 366.0,686.8 366.5,686.7 367.0,686.6 367.5,686.5 368.0,686.4 368.5,686.4 369.0,686.5 369.5,686.5 370.0,686.5 370.5,686.3 371.0,686.1 371.5,685.9 372.0,685.6 372.5,685.0 373.0,684.3 373.5,683.9 374.0,683.2 374.5,681.3 375.0,678.9 375.5,675.7 376.0,671.7 376.5,666.9 377.0,661.0 377.5,654.1 378.0,646.0 378.5,635.6 379.0,624.1 379.5,612.0 380.0,599.2 380.5,586.3 381.0,573.5 381.5,561.5 382.0,550.8 382.5,541.5 383.0,534.6 383.5,530.8 384.0,529.9 384.5,531.0 385.0,533.6 385.5,537.4 386.0,542.6 386.5,549.7 387.0,557.8 387.5,565.6 388.0,574.0 388.5,583.9 389.0,594.0 389.5,602.9 390.0,611.6 390.5,620.4 391.0,628.8 391.5,637.1 392.0,644.7 392.5,651.1 393.0,656.9 393.5,661.6 394.0,665.6 394.5,669.6 395.0,673.1 395.5,675.7 396.0,677.9 396.5,679.9 397.0,681.5 397.5,682.4 398.0,683.0 398.5,684.1 399.0,685.1 399.5,685.6 400.0,686.0 400.5,686.1 401.0,686.0 401.5,686.3 402.0,686.5 402.5,686.5 403.0,686.5 403.5,686.1 404.0,685.6 404.5,685.8 405.0,685.9 405.5,685.6 406.0,685.3 406.5,684.8 407.0,684.2 407.5,683.3 408.0,682.3 408.5,681.9 409.0,681.4 409.5,680.6 410.0,679.7 410.5,678.1 411.0,676.3 411.5,675.1 412.0,673.8 412.5,672.3 413.0,670.8 413.5,668.9 414.0,667.0 414.5,665.0 415.0,663.0 415.5,661.9 416.0,661.0 416.5,659.7 417.0,658.5 417.5,658.2 418.0,658.2 418.5,657.9 419.0,657.9 419.5,658.1 420.0,658.6 420.5,659.9 421.0,661.4 421.5,662.5 422.0,663.8 422.5,665.2 423.0,666.6 423.5,668.7 424.0,670.7 424.5,672.4 425.0,674.1 425.5,675.6 426.0,677.1 426.5,678.4 427.0,679.6 427.5,680.6 428.0,681.4 428.5,682.3 429.0,683.1 429.5,683.7 430.0,684.2 430.5,684.6 431.0,684.9 431.5,685.5 432.0,686.1 432.5,685.9 433.0,685.6 433.5,685.6 434.0,685.5 434.5,686.0 435.0,686.4 435.5,686.3 436.0,686.2 436.5,686.3 437.0,686.3 437.5,686.4 438.0,686.4 438.5,686.2 439.0,686.0 439.5,685.9 440.0,685.9 440.5,685.8 441.0,685.7 441.5,686.2 442.0,686.7 442.5,686.7 443.0,686.8 443.5,686.7 444.0,686.6 444.5,686.2 445.0,685.8 445.5,686.4 446.0,686.9 446.5,686.8 447.0,686.7 447.5,686.5 448.0,686.3 448.5,686.0 449.0,685.7 449.5,686.2 450.0,686.7 450.5,686.6 451.0,686.5 451.5,686.5 452.0,686.5 452.5,686.1 453.0,685.7 453.5,686.1 454.0,686.6 454.5,686.1 455.0,685.7 455.5,686.0 456.0,686.3 456.5,686.1 457.0,685.8 457.5,686.0 458.0,686.1 458.5,686.5 459.0,686.8 459.5,686.7 460.0,686.6 460.5,686.7 461.0,686.7 461.5,686.4 462.0,686.0 462.5,686.1 463.0,686.2 463.5,686.3 464.0,686.4 464.5,686.1 465.0,685.7 465.5,685.9 466.0,686.2 466.5,686.6 467.0,686.9 467.5,686.8 468.0,686.6 468.5,686.7 469.0,686.8 469.5,686.4 470.0,686.0 470.5,686.3 471.0,686.5 471.5,686.6 472.0,686.7 472.5,686.6 473.0,686.6 473.5,686.4 474.0,686.2 474.5,686.0 475.0,685.9 475.5,685.8 476.0,685.7 476.5,686.2 477.0,686.8 477.5,686.8 478.0,686.9 478.5,686.4 479.0,686.0 479.5,686.3 480.0,686.6 480.5,686.4 481.0,686.2 481.5,686.3 482.0,686.5 482.5,686.6 483.0,686.7 483.5,686.4 484.0,686.1 484.5,686.3 485.0,686.5 485.5,686.2 486.0,686.0 486.5,686.1 487.0,686.3 487.5,686.0 488.0,685.7 488.5,685.8 489.0,686.0 489.5,686.0 490.0,686.0 490.5,686.4 491.0,686.8 491.5,686.3 492.0,685.8 492.5,686.2 493.0,686.6 493.5,686.2 494.0,685.8 494.5,686.3 495.0,686.9 495.5,686.4 496.0,685.9 496.5,685.8 497.0,685.8 497.5,685.8 498.0,685.9 498.5,686.4 499.0,686.9 499.5,686.7 500.0,686.5 500.5,686.7 501.0,686.8 501.5,686.6 502.0,686.3 502.5,686.0 503.0,685.8 503.5,685.9 504.0,686.1 504.5,686.2 505.0,686.2 505.5,686.6 506.0,686.9 506.5,686.4 507.0,685.9 507.5,685.9 508.0,686.0 508.5,686.4 509.0,686.7 509.5,686.3 510.0,685.8 510.5,686.4 511.0,686.9 511.5,686.5 512.0,686.0 512.5,686.2 513.0,686.4 513.5,686.4 514.0,686.5 514.5,686.7 515.0,686.8 515.5,686.3 516.0,685.7 516.5,686.2 517.0,686.8 517.5,686.3 518.0,685.9 518.5,686.2 519.0,686.6 519.5,686.1 520.0,685.7 520.5,686.2 521.0,686.6 521.5,686.3 522.0,685.9 522.5,685.9 523.0,685.9 523.5,685.8 524.0,685.7 524.5,685.9 525.0,686.1 525.5,686.1 526.0,686.1 526.5,686.5 527.0,686.9 527.5,686.7 528.0,686.4 528.5,686.3 529.0,686.1 529.5,686.5 530.0,686.9 530.5,686.4 531.0,685.9 531.5,685.9 532.0,685.9 532.5,686.4 533.0,686.9 533.5,686.9 534.0,686.9 534.5,686.7 535.0,686.5 535.5,686.7 536.0,686.9 536.5,686.3 537.0,685.7 537.5,686.3 538.0,686.8 538.5,686.7 539.0,686.6 539.5,686.5 540.0,686.5 540.5,686.6 541.0,686.7 541.5,686.3 542.0,685.8 542.5,685.8 543.0,685.9 543.5,685.9 544.0,685.8 544.5,686.1 545.0,686.3 545.5,686.3 546.0,686.4 546.5,686.4 547.0,686.4 547.5,686.2 548.0,686.1 548.5,686.4 549.0,686.6 549.5,686.7 550.0,686.7 550.5,686.7 551.0,686.6 551.5,686.2 552.0,685.7 552.5,685.8 553.0,685.8 553.5,685.9 554.0,685.9 554.5,685.9 555.0,686.0 555.5,686.2 556.0,686.4 556.5,686.1 557.0,685.9 557.5,686.2 558.0,686.5 558.5,686.3 559.0,686.1 559.5,686.1 560.0,686.1 560.5,686.3 561.0,686.6 561.5,686.7 562.0,686.9 562.5,686.4 563.0,685.9 563.5,686.0 564.0,686.1 564.5,686.5 565.0,686.9 565.5,686.4 566.0,685.9 566.5,685.8 567.0,685.7 567.5,685.8 568.0,685.9 568.5,686.3 569.0,686.7 569.5,686.7 570.0,686.6 570.5,686.7 571.0,686.9 571.5,686.6 572.0,686.3 572.5,686.0 573.0,685.7 573.5,685.9 574.0,686.0 574.5,686.3 575.0,686.6 575.5,686.4 576.0,686.2 576.5,686.0 577.0,685.8 577.5,686.0 578.0,686.1 578.5,686.2 579.0,686.3 579.5,686.2 580.0,686.1 580.5,686.2 581.0,686.2 581.5,686.0 582.0,685.8 582.5,685.8 583.0,685.7 583.5,686.2 584.0,686.7 584.5,686.6 585.0,686.6 585.5,686.4 586.0,686.2 586.5,686.0 587.0,685.8 587.5,685.9 588.0,686.0 588.5,686.2 589.0,686.4 589.5,686.6 590.0,686.8 590.5,686.5 591.0,686.3 591.5,686.6 592.0,686.9 592.5,686.6 593.0,686.3 593.5,686.1 594.0,685.9 594.5,686.2 595.0,686.4 595.5,686.4 596.0,686.4 596.5,686.4 597.0,686.4 597.5,686.5 598.0,686.6 598.5,686.1 599.0,685.7 599.5,685.9 600.0,686.2 600.5,686.5 601.0,686.7 601.5,686.3 602.0,685.8 602.5,685.8 603.0,685.7 603.5,685.8 604.0,685.9 604.5,686.0 605.0,686.0 605.5,686.1 606.0,686.2 606.5,686.1 607.0,686.1 607.5,686.3 608.0,686.5 608.5,686.2 609.0,685.9 609.5,686.0 610.0,686.1 610.5,686.3 611.0,686.5 611.5,686.4 612.0,686.4 612.5,686.6 613.0,686.9 613.5,686.9 614.0,686.9 614.5,686.4 615.0,686.0 615.5,686.0 616.0,686.1 616.5,686.2 617.0,686.3 617.5,686.4 618.0,686.4 618.5,686.2 619.0,686.1 619.5,686.4 620.0,686.8 620.5,686.3 621.0,685.9 621.5,686.1 622.0,686.3 622.5,686.0 623.0,685.8 623.5,686.3 624.0,686.8 624.5,686.6 625.0,686.4 625.5,686.7 626.0,686.9 626.5,686.4 627.0,685.8 627.5,686.2 628.0,686.6 628.5,686.5 629.0,686.4 629.5,686.1 630.0,685.7 630.5,686.2 631.0,686.7 631.5,686.8 632.0,686.8 632.5,686.3 633.0,685.8 633.5,686.3 634.0,686.9 634.5,686.8 635.0,686.7 635.5,686.6 636.0,686.4 636.5,686.4 637.0,686.4 637.5,686.2 638.0,686.0 638.5,685.9 639.0,685.7 639.5,686.0 640.0,686.3 640.5,686.5 641.0,686.8 641.5,686.3 642.0,685.9 642.5,686.1 643.0,686.3 643.5,686.1 644.0,686.0 644.5,686.3 645.0,686.5 645.5,686.7 646.0,686.9 646.5,686.9 647.0,686.8 647.5,686.4 648.0,686.0 648.5,686.1 649.0,686.2 649.5,685.9 650.0,685.7 650.5,686.0 651.0,686.3 651.5,686.5 652.0,686.8 652.5,686.8 653.0,686.7 653.5,686.2 654.0,685.7 654.5,686.0 655.0,686.2 655.5,686.0 656.0,685.8 656.5,686.0 657.0,686.2 657.5,686.5 658.0,686.8 658.5,686.4 659.0,686.0 659.5,686.4 660.0,686.7 660.5,686.8 661.0,686.9 661.5,686.8 662.0,686.7 662.5,686.3 663.0,685.9 663.5,686.4 664.0,686.8 664.5,686.8 665.0,686.8 665.5,686.9 666.0,686.9 666.5,686.3 667.0,685.7 667.5,685.7 668.0,685.7 668.5,685.8 669.0,686.0 669.5,686.2 670.0,686.3 670.5,686.3 671.0,686.2 671.5,686.0 672.0,685.8 672.5,686.1 673.0,686.5 673.5,686.5 674.0,686.5 674.5,686.5 675.0,686.5 675.5,686.4 676.0,686.3 676.5,686.3 677.0,686.4 677.5,686.5 678.0,686.5 678.5,686.1 679.0,685.7 679.5,686.0 680.0,686.2 680.5,686.0 681.0,685.8 681.5,685.8 682.0,685.8 682.5,686.2 683.0,686.6 683.5,686.4 684.0,686.1 684.5,686.1 685.0,686.1 685.5,686.1 686.0,686.0 686.5,686.2 687.0,686.4 687.5,686.1 688.0,685.8 688.5,686.1 689.0,686.5 689.5,686.1 690.0,685.7 690.5,686.3 691.0,686.9 691.5,686.4 692.0,685.9 692.5,686.3 693.0,686.6 693.5,686.5 694.0,686.4 694.5,686.3 695.0,686.2 695.5,686.1 696.0,686.0 696.5,686.1 697.0,686.1 697.5,686.4 698.0,686.6 698.5,686.5 699.0,686.3 699.5,686.3 700.0,686.3 700.5,686.2 701.0,686.0 701.5,686.2 702.0,686.5 702.5,686.2 703.0,685.9 703.5,686.1 704.0,686.3 704.5,686.4 705.0,686.5 705.5,686.4 706.0,686.4 706.5,686.4 707.0,686.4 707.5,686.4 708.0,686.4 708.5,686.1 709.0,685.9 709.5,686.4 710.0,686.9 710.5,686.7 711.0,686.5 711.5,686.6 712.0,686.6 712.5,686.7 713.0,686.9 713.5,686.6 714.0,686.2 714.5,686.2 715.0,686.1 715.5,686.1 716.0,686.0 716.5,686.1 717.0,686.1 717.5,686.1 718.0,686.0 718.5,686.1 719.0,686.1 719.5,686.0 720.0,685.9 720.5,686.1 721.0,686.3 721.5,686.2 722.0,686.0 722.5,686.1 723.0,686.1 723.5,686.3 724.0,686.5 724.5,686.3 725.0,686.1 725.5,686.4 726.0,686.8 726.5,686.7 727.0,686.7 727.5,686.4 728.0,686.1 728.5,686.4" fill="none" stroke="#00e8f0" stroke-width="2.6" stroke-linejoin="round" stroke-linecap="butt"/>
<text transform="translate(25.5,31.3) scale(1,1.03)" font-size="19.6" fill="#000" font-family="Liberation Sans, sans-serif">6% modifier in scCO<tspan dx="-0.6" dy="4.85" font-size="13.0">2</tspan></text>
<text transform="translate(339.50,33.70) scale(1,1.08)" font-size="21.0" fill="#0c9c4c" stroke="#0c9c4c" stroke-width="0.3" font-family="Liberation Sans, sans-serif">4a</text>
<text transform="translate(281.30,120.80) scale(1,1.08)" font-size="21.0" fill="#f00" stroke="#f00" stroke-width="0.3" font-family="Liberation Sans, sans-serif">4b<tspan dx="0.5" dy="4.63" font-size="14.0">1</tspan></text>
<text transform="translate(416.00,150.20) scale(1,1.08)" font-size="21.0" fill="#f00" stroke="#f00" stroke-width="0.3" font-family="Liberation Sans, sans-serif">4b<tspan dx="1.0" dy="4.63" font-size="14.0">2</tspan></text>
<text transform="translate(25.5,203.6) scale(1,1.03)" font-size="19.6" fill="#000" font-family="Liberation Sans, sans-serif">5% modifier in scCO<tspan dx="-0.6" dy="4.85" font-size="13.0">2</tspan></text>
<text transform="translate(338.30,196.80) scale(1,1.08)" font-size="21.0" fill="#0c9c4c" stroke="#0c9c4c" stroke-width="0.3" font-family="Liberation Sans, sans-serif">4a</text>
<text transform="translate(279.30,283.60) scale(1,1.08)" font-size="21.0" fill="#f00" stroke="#f00" stroke-width="0.3" font-family="Liberation Sans, sans-serif">4b<tspan dx="0.5" dy="4.63" font-size="14.0">1</tspan></text>
<text transform="translate(414.70,313.30) scale(1,1.08)" font-size="21.0" fill="#f00" stroke="#f00" stroke-width="0.3" font-family="Liberation Sans, sans-serif">4b<tspan dx="1.0" dy="4.63" font-size="14.0">2</tspan></text>
<text transform="translate(25.5,376.4) scale(1,1.03)" font-size="19.6" fill="#000" font-family="Liberation Sans, sans-serif">4% modifier in scCO<tspan dx="-0.6" dy="4.85" font-size="13.0">2</tspan></text>
<text transform="translate(357.70,371.90) scale(1,1.08)" font-size="21.0" fill="#0c9c4c" stroke="#0c9c4c" stroke-width="0.3" font-family="Liberation Sans, sans-serif">4a</text>
<text transform="translate(298.70,458.90) scale(1,1.08)" font-size="21.0" fill="#f00" stroke="#f00" stroke-width="0.3" font-family="Liberation Sans, sans-serif">4b<tspan dx="0.5" dy="4.63" font-size="14.0">1</tspan></text>
<text transform="translate(434.20,488.30) scale(1,1.08)" font-size="21.0" fill="#f00" stroke="#f00" stroke-width="0.3" font-family="Liberation Sans, sans-serif">4b<tspan dx="1.0" dy="4.63" font-size="14.0">2</tspan></text>
<text transform="translate(25.5,550.5) scale(1,1.03)" font-size="19.6" fill="#000" font-family="Liberation Sans, sans-serif">2% modifier in scCO<tspan dx="-0.6" dy="4.85" font-size="13.0">2</tspan></text>
<text transform="translate(397.40,553.10) scale(1,1.08)" font-size="21.0" fill="#0c9c4c" stroke="#0c9c4c" stroke-width="0.3" font-family="Liberation Sans, sans-serif">4a</text>
<text transform="translate(338.70,640.00) scale(1,1.08)" font-size="21.0" fill="#f00" stroke="#f00" stroke-width="0.3" font-family="Liberation Sans, sans-serif">4b<tspan dx="0.5" dy="4.63" font-size="14.0">1</tspan></text>
<text transform="translate(434.00,660.20) scale(1,1.08)" font-size="21.0" fill="#f00" stroke="#f00" stroke-width="0.3" font-family="Liberation Sans, sans-serif">4b<tspan dx="1.0" dy="4.63" font-size="14.0">2</tspan></text>
<text x="21.2" y="722.2" font-size="19.6" text-anchor="middle" fill="#000" font-family="Liberation Sans, sans-serif">0.00</text>
<text x="109.7" y="722.2" font-size="19.6" text-anchor="middle" fill="#000" font-family="Liberation Sans, sans-serif">2.00</text>
<text x="198.2" y="722.2" font-size="19.6" text-anchor="middle" fill="#000" font-family="Liberation Sans, sans-serif">4.00</text>
<text x="286.7" y="722.2" font-size="19.6" text-anchor="middle" fill="#000" font-family="Liberation Sans, sans-serif">6.00</text>
<text x="375.2" y="722.2" font-size="19.6" text-anchor="middle" fill="#000" font-family="Liberation Sans, sans-serif">8.00</text>
<text x="465.5" y="722.2" font-size="19.6" text-anchor="middle" fill="#000" font-family="Liberation Sans, sans-serif">10.00</text>
<text x="554.0" y="722.2" font-size="19.6" text-anchor="middle" fill="#000" font-family="Liberation Sans, sans-serif">12.00</text>
<text x="642.5" y="722.2" font-size="19.6" text-anchor="middle" fill="#000" font-family="Liberation Sans, sans-serif">14.00</text>
<text x="731.0" y="722.2" font-size="19.6" text-anchor="middle" fill="#000" font-family="Liberation Sans, sans-serif">16.00</text>
<text x="379.3" y="747.2" font-size="19.0" text-anchor="middle" fill="#000" font-family="Liberation Sans, sans-serif">Minutes</text>
</svg>
</body></html>
